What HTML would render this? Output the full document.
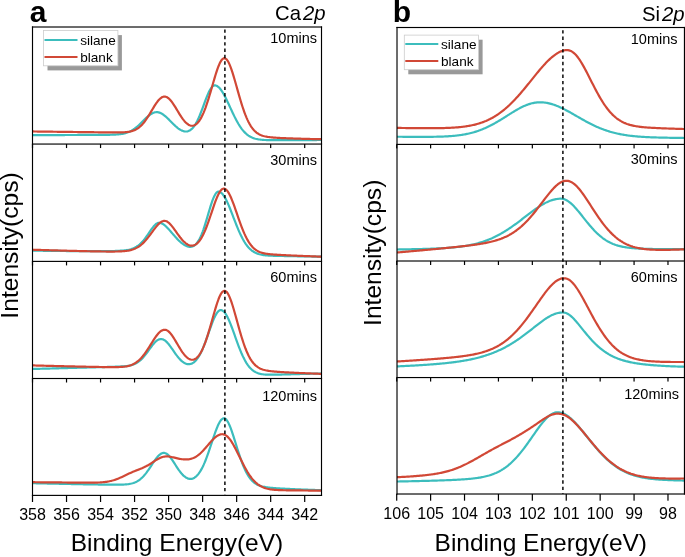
<!DOCTYPE html><html><head><meta charset="utf-8"><style>html,body{margin:0;padding:0;background:#fff;width:685px;height:557px;overflow:hidden}svg{display:block;will-change:transform}text{font-family:"Liberation Sans",sans-serif;fill:#000}</style></head><body>
<svg width="685" height="557" viewBox="0 0 685 557">
<rect width="685" height="557" fill="#fff"/>
<defs><clipPath id="ca"><rect x="32.5" y="27.0" width="289.0" height="468.0"/></clipPath></defs>
<g clip-path="url(#ca)" fill="none" stroke-width="2.2" stroke-linejoin="round">
<path d="M32.5 135.16 L33.5 135.16 L34.5 135.15 L35.5 135.15 L36.5 135.14 L37.5 135.14 L38.5 135.14 L39.5 135.13 L40.5 135.13 L41.5 135.12 L42.5 135.12 L43.5 135.11 L44.5 135.11 L45.5 135.11 L46.5 135.10 L47.5 135.10 L48.5 135.09 L49.5 135.09 L50.5 135.09 L51.5 135.08 L52.5 135.08 L53.5 135.07 L54.5 135.07 L55.5 135.07 L56.5 135.06 L57.5 135.06 L58.5 135.05 L59.5 135.05 L60.5 135.05 L61.5 135.04 L62.5 135.04 L63.5 135.03 L64.5 135.03 L65.5 135.02 L66.5 135.02 L67.5 135.02 L68.5 135.01 L69.5 135.01 L70.5 135.00 L71.5 135.00 L72.5 135.00 L73.5 134.99 L74.5 134.99 L75.5 134.98 L76.5 134.98 L77.5 134.98 L78.5 134.97 L79.5 134.97 L80.5 134.96 L81.5 134.96 L82.5 134.96 L83.5 134.95 L84.5 134.95 L85.5 134.94 L86.5 134.94 L87.5 134.93 L88.5 134.93 L89.5 134.93 L90.5 134.92 L91.5 134.92 L92.5 134.91 L93.5 134.91 L94.5 134.91 L95.5 134.90 L96.5 134.90 L97.5 134.89 L98.5 134.89 L99.5 134.88 L100.5 134.88 L101.5 134.87 L102.5 134.86 L103.5 134.86 L104.5 134.85 L105.5 134.84 L106.5 134.83 L107.5 134.82 L108.5 134.80 L109.5 134.79 L110.5 134.76 L111.5 134.74 L112.5 134.71 L113.5 134.67 L114.5 134.63 L115.5 134.58 L116.5 134.52 L117.5 134.44 L118.5 134.35 L119.5 134.25 L120.5 134.12 L121.5 133.97 L122.5 133.80 L123.5 133.60 L124.5 133.38 L125.5 133.11 L126.5 132.81 L127.5 132.47 L128.5 132.08 L129.5 131.65 L130.5 131.17 L131.5 130.64 L132.5 130.05 L133.5 129.41 L134.5 128.72 L135.5 127.98 L136.5 127.18 L137.5 126.34 L138.5 125.45 L139.5 124.52 L140.5 123.56 L141.5 122.58 L142.5 121.58 L143.5 120.58 L144.5 119.58 L145.5 118.60 L146.5 117.64 L147.5 116.73 L148.5 115.87 L149.5 115.07 L150.5 114.35 L151.5 113.72 L152.5 113.18 L153.5 112.75 L154.5 112.44 L155.5 112.24 L156.5 112.16 L157.5 112.21 L158.5 112.37 L159.5 112.65 L160.5 113.03 L161.5 113.52 L162.5 114.11 L163.5 114.78 L164.5 115.54 L165.5 116.37 L166.5 117.25 L167.5 118.19 L168.5 119.16 L169.5 120.16 L170.5 121.18 L171.5 122.19 L172.5 123.20 L173.5 124.19 L174.5 125.16 L175.5 126.08 L176.5 126.96 L177.5 127.78 L178.5 128.55 L179.5 129.24 L180.5 129.85 L181.5 130.38 L182.5 130.82 L183.5 131.16 L184.5 131.39 L185.5 131.50 L186.5 131.49 L187.5 131.34 L188.5 131.05 L189.5 130.60 L190.5 129.98 L191.5 129.19 L192.5 128.22 L193.5 127.05 L194.5 125.69 L195.5 124.12 L196.5 122.37 L197.5 120.41 L198.5 118.28 L199.5 115.98 L200.5 113.53 L201.5 110.97 L202.5 108.31 L203.5 105.60 L204.5 102.88 L205.5 100.20 L206.5 97.60 L207.5 95.13 L208.5 92.85 L209.5 90.79 L210.5 89.02 L211.5 87.56 L212.5 86.45 L213.5 85.72 L214.5 85.38 L215.5 85.44 L216.5 85.76 L217.5 86.31 L218.5 87.08 L219.5 88.06 L220.5 89.23 L221.5 90.59 L222.5 92.13 L223.5 93.81 L224.5 95.62 L225.5 97.55 L226.5 99.57 L227.5 101.66 L228.5 103.80 L229.5 105.97 L230.5 108.15 L231.5 110.32 L232.5 112.47 L233.5 114.57 L234.5 116.62 L235.5 118.59 L236.5 120.49 L237.5 122.30 L238.5 124.02 L239.5 125.63 L240.5 127.14 L241.5 128.55 L242.5 129.85 L243.5 131.05 L244.5 132.14 L245.5 133.14 L246.5 134.04 L247.5 134.85 L248.5 135.58 L249.5 136.22 L250.5 136.79 L251.5 137.30 L252.5 137.74 L253.5 138.12 L254.5 138.46 L255.5 138.74 L256.5 138.99 L257.5 139.20 L258.5 139.38 L259.5 139.53 L260.5 139.65 L261.5 139.76 L262.5 139.85 L263.5 139.92 L264.5 139.98 L265.5 140.02 L266.5 140.06 L267.5 140.09 L268.5 140.12 L269.5 140.14 L270.5 140.15 L271.5 140.16 L272.5 140.17 L273.5 140.17 L274.5 140.18 L275.5 140.18 L276.5 140.18 L277.5 140.18 L278.5 140.18 L279.5 140.17 L280.5 140.17 L281.5 140.17 L282.5 140.16 L283.5 140.16 L284.5 140.16 L285.5 140.15 L286.5 140.15 L287.5 140.15 L288.5 140.14 L289.5 140.14 L290.5 140.13 L291.5 140.13 L292.5 140.13 L293.5 140.12 L294.5 140.12 L295.5 140.11 L296.5 140.11 L297.5 140.11 L298.5 140.10 L299.5 140.10 L300.5 140.09 L301.5 140.09 L302.5 140.09 L303.5 140.08 L304.5 140.08 L305.5 140.07 L306.5 140.07 L307.5 140.07 L308.5 140.06 L309.5 140.06 L310.5 140.05 L311.5 140.05 L312.5 140.04 L313.5 140.04 L314.5 140.04 L315.5 140.03 L316.5 140.03 L317.5 140.02 L318.5 140.02 L319.5 140.02 L320.5 140.01 L321.5 140.01" stroke="#3cbdbd"/>
<path d="M32.5 131.46 L33.5 131.47 L34.5 131.49 L35.5 131.50 L36.5 131.51 L37.5 131.53 L38.5 131.54 L39.5 131.55 L40.5 131.56 L41.5 131.58 L42.5 131.59 L43.5 131.60 L44.5 131.62 L45.5 131.63 L46.5 131.64 L47.5 131.66 L48.5 131.67 L49.5 131.68 L50.5 131.69 L51.5 131.71 L52.5 131.72 L53.5 131.73 L54.5 131.75 L55.5 131.76 L56.5 131.77 L57.5 131.78 L58.5 131.80 L59.5 131.81 L60.5 131.82 L61.5 131.84 L62.5 131.85 L63.5 131.86 L64.5 131.87 L65.5 131.89 L66.5 131.90 L67.5 131.91 L68.5 131.92 L69.5 131.94 L70.5 131.95 L71.5 131.96 L72.5 131.97 L73.5 131.99 L74.5 132.00 L75.5 132.01 L76.5 132.02 L77.5 132.03 L78.5 132.05 L79.5 132.06 L80.5 132.07 L81.5 132.08 L82.5 132.09 L83.5 132.11 L84.5 132.12 L85.5 132.13 L86.5 132.14 L87.5 132.15 L88.5 132.17 L89.5 132.18 L90.5 132.19 L91.5 132.20 L92.5 132.21 L93.5 132.22 L94.5 132.23 L95.5 132.25 L96.5 132.26 L97.5 132.27 L98.5 132.28 L99.5 132.29 L100.5 132.30 L101.5 132.31 L102.5 132.32 L103.5 132.33 L104.5 132.34 L105.5 132.35 L106.5 132.36 L107.5 132.37 L108.5 132.38 L109.5 132.39 L110.5 132.40 L111.5 132.41 L112.5 132.41 L113.5 132.42 L114.5 132.42 L115.5 132.43 L116.5 132.43 L117.5 132.42 L118.5 132.42 L119.5 132.40 L120.5 132.39 L121.5 132.36 L122.5 132.33 L123.5 132.28 L124.5 132.23 L125.5 132.15 L126.5 132.06 L127.5 131.95 L128.5 131.80 L129.5 131.63 L130.5 131.43 L131.5 131.18 L132.5 130.89 L133.5 130.54 L134.5 130.14 L135.5 129.67 L136.5 129.13 L137.5 128.52 L138.5 127.82 L139.5 127.04 L140.5 126.16 L141.5 125.20 L142.5 124.13 L143.5 122.97 L144.5 121.72 L145.5 120.38 L146.5 118.95 L147.5 117.45 L148.5 115.88 L149.5 114.25 L150.5 112.59 L151.5 110.91 L152.5 109.23 L153.5 107.56 L154.5 105.94 L155.5 104.38 L156.5 102.91 L157.5 101.54 L158.5 100.30 L159.5 99.22 L160.5 98.30 L161.5 97.57 L162.5 97.04 L163.5 96.71 L164.5 96.60 L165.5 96.70 L166.5 97.01 L167.5 97.53 L168.5 98.25 L169.5 99.16 L170.5 100.23 L171.5 101.46 L172.5 102.81 L173.5 104.28 L174.5 105.83 L175.5 107.45 L176.5 109.10 L177.5 110.77 L178.5 112.43 L179.5 114.06 L180.5 115.64 L181.5 117.16 L182.5 118.59 L183.5 119.92 L184.5 121.14 L185.5 122.24 L186.5 123.20 L187.5 124.02 L188.5 124.69 L189.5 125.21 L190.5 125.56 L191.5 125.75 L192.5 125.76 L193.5 125.59 L194.5 125.23 L195.5 124.69 L196.5 123.94 L197.5 123.00 L198.5 121.84 L199.5 120.48 L200.5 118.90 L201.5 117.10 L202.5 115.09 L203.5 112.86 L204.5 110.42 L205.5 107.79 L206.5 104.96 L207.5 101.96 L208.5 98.81 L209.5 95.53 L210.5 92.14 L211.5 88.69 L212.5 85.21 L213.5 81.74 L214.5 78.32 L215.5 75.01 L216.5 71.85 L217.5 68.90 L218.5 66.20 L219.5 63.82 L220.5 61.81 L221.5 60.20 L222.5 59.04 L223.5 58.36 L224.5 58.18 L225.5 58.50 L226.5 59.29 L227.5 60.56 L228.5 62.26 L229.5 64.36 L230.5 66.81 L231.5 69.58 L232.5 72.60 L233.5 75.83 L234.5 79.22 L235.5 82.71 L236.5 86.26 L237.5 89.83 L238.5 93.38 L239.5 96.87 L240.5 100.28 L241.5 103.56 L242.5 106.71 L243.5 109.70 L244.5 112.52 L245.5 115.16 L246.5 117.61 L247.5 119.87 L248.5 121.94 L249.5 123.83 L250.5 125.54 L251.5 127.08 L252.5 128.45 L253.5 129.68 L254.5 130.76 L255.5 131.71 L256.5 132.55 L257.5 133.28 L258.5 133.91 L259.5 134.46 L260.5 134.94 L261.5 135.35 L262.5 135.70 L263.5 136.01 L264.5 136.27 L265.5 136.50 L266.5 136.69 L267.5 136.87 L268.5 137.02 L269.5 137.15 L270.5 137.26 L271.5 137.37 L272.5 137.46 L273.5 137.55 L274.5 137.62 L275.5 137.69 L276.5 137.76 L277.5 137.82 L278.5 137.88 L279.5 137.93 L280.5 137.98 L281.5 138.03 L282.5 138.08 L283.5 138.13 L284.5 138.17 L285.5 138.21 L286.5 138.25 L287.5 138.29 L288.5 138.33 L289.5 138.37 L290.5 138.40 L291.5 138.44 L292.5 138.47 L293.5 138.51 L294.5 138.54 L295.5 138.57 L296.5 138.60 L297.5 138.63 L298.5 138.66 L299.5 138.69 L300.5 138.72 L301.5 138.75 L302.5 138.78 L303.5 138.81 L304.5 138.83 L305.5 138.86 L306.5 138.89 L307.5 138.91 L308.5 138.94 L309.5 138.96 L310.5 138.99 L311.5 139.01 L312.5 139.03 L313.5 139.06 L314.5 139.08 L315.5 139.10 L316.5 139.13 L317.5 139.15 L318.5 139.17 L319.5 139.19 L320.5 139.21 L321.5 139.24" stroke="#d14836"/>
<path d="M32.5 250.64 L33.5 250.66 L34.5 250.67 L35.5 250.68 L36.5 250.69 L37.5 250.71 L38.5 250.72 L39.5 250.73 L40.5 250.74 L41.5 250.75 L42.5 250.77 L43.5 250.78 L44.5 250.79 L45.5 250.80 L46.5 250.81 L47.5 250.83 L48.5 250.84 L49.5 250.85 L50.5 250.86 L51.5 250.87 L52.5 250.88 L53.5 250.89 L54.5 250.91 L55.5 250.92 L56.5 250.93 L57.5 250.94 L58.5 250.95 L59.5 250.96 L60.5 250.97 L61.5 250.98 L62.5 250.99 L63.5 251.00 L64.5 251.01 L65.5 251.02 L66.5 251.03 L67.5 251.04 L68.5 251.05 L69.5 251.06 L70.5 251.07 L71.5 251.08 L72.5 251.08 L73.5 251.09 L74.5 251.10 L75.5 251.11 L76.5 251.12 L77.5 251.12 L78.5 251.13 L79.5 251.14 L80.5 251.14 L81.5 251.15 L82.5 251.16 L83.5 251.16 L84.5 251.17 L85.5 251.17 L86.5 251.17 L87.5 251.18 L88.5 251.18 L89.5 251.19 L90.5 251.19 L91.5 251.19 L92.5 251.19 L93.5 251.19 L94.5 251.19 L95.5 251.19 L96.5 251.19 L97.5 251.19 L98.5 251.19 L99.5 251.18 L100.5 251.18 L101.5 251.17 L102.5 251.17 L103.5 251.16 L104.5 251.15 L105.5 251.14 L106.5 251.13 L107.5 251.12 L108.5 251.10 L109.5 251.09 L110.5 251.07 L111.5 251.05 L112.5 251.03 L113.5 251.00 L114.5 250.98 L115.5 250.95 L116.5 250.91 L117.5 250.87 L118.5 250.83 L119.5 250.78 L120.5 250.72 L121.5 250.65 L122.5 250.57 L123.5 250.48 L124.5 250.38 L125.5 250.26 L126.5 250.12 L127.5 249.96 L128.5 249.77 L129.5 249.55 L130.5 249.29 L131.5 248.99 L132.5 248.65 L133.5 248.25 L134.5 247.80 L135.5 247.28 L136.5 246.70 L137.5 246.04 L138.5 245.30 L139.5 244.48 L140.5 243.58 L141.5 242.59 L142.5 241.51 L143.5 240.36 L144.5 239.12 L145.5 237.81 L146.5 236.45 L147.5 235.03 L148.5 233.57 L149.5 232.10 L150.5 230.64 L151.5 229.21 L152.5 227.85 L153.5 226.57 L154.5 225.43 L155.5 224.46 L156.5 223.69 L157.5 223.15 L158.5 222.87 L159.5 222.85 L160.5 223.01 L161.5 223.33 L162.5 223.80 L163.5 224.41 L164.5 225.14 L165.5 225.98 L166.5 226.91 L167.5 227.92 L168.5 228.99 L169.5 230.11 L170.5 231.25 L171.5 232.42 L172.5 233.59 L173.5 234.75 L174.5 235.90 L175.5 237.02 L176.5 238.12 L177.5 239.17 L178.5 240.18 L179.5 241.14 L180.5 242.05 L181.5 242.90 L182.5 243.68 L183.5 244.39 L184.5 245.03 L185.5 245.58 L186.5 246.05 L187.5 246.42 L188.5 246.69 L189.5 246.84 L190.5 246.87 L191.5 246.75 L192.5 246.48 L193.5 246.04 L194.5 245.41 L195.5 244.58 L196.5 243.53 L197.5 242.25 L198.5 240.72 L199.5 238.94 L200.5 236.90 L201.5 234.61 L202.5 232.07 L203.5 229.30 L204.5 226.32 L205.5 223.17 L206.5 219.88 L207.5 216.50 L208.5 213.09 L209.5 209.72 L210.5 206.44 L211.5 203.34 L212.5 200.47 L213.5 197.91 L214.5 195.72 L215.5 193.95 L216.5 192.66 L217.5 191.87 L218.5 191.61 L219.5 191.80 L220.5 192.27 L221.5 193.02 L222.5 194.05 L223.5 195.32 L224.5 196.84 L225.5 198.58 L226.5 200.52 L227.5 202.63 L228.5 204.89 L229.5 207.28 L230.5 209.76 L231.5 212.31 L232.5 214.91 L233.5 217.52 L234.5 220.13 L235.5 222.71 L236.5 225.24 L237.5 227.70 L238.5 230.08 L239.5 232.36 L240.5 234.53 L241.5 236.58 L242.5 238.52 L243.5 240.32 L244.5 241.99 L245.5 243.54 L246.5 244.96 L247.5 246.25 L248.5 247.42 L249.5 248.48 L250.5 249.43 L251.5 250.28 L252.5 251.03 L253.5 251.70 L254.5 252.28 L255.5 252.79 L256.5 253.24 L257.5 253.63 L258.5 253.96 L259.5 254.25 L260.5 254.50 L261.5 254.71 L262.5 254.89 L263.5 255.05 L264.5 255.18 L265.5 255.29 L266.5 255.39 L267.5 255.47 L268.5 255.54 L269.5 255.60 L270.5 255.65 L271.5 255.70 L272.5 255.74 L273.5 255.78 L274.5 255.81 L275.5 255.84 L276.5 255.87 L277.5 255.89 L278.5 255.92 L279.5 255.94 L280.5 255.96 L281.5 255.98 L282.5 256.00 L283.5 256.02 L284.5 256.04 L285.5 256.06 L286.5 256.08 L287.5 256.10 L288.5 256.12 L289.5 256.13 L290.5 256.15 L291.5 256.17 L292.5 256.19 L293.5 256.21 L294.5 256.22 L295.5 256.24 L296.5 256.26 L297.5 256.28 L298.5 256.29 L299.5 256.31 L300.5 256.33 L301.5 256.35 L302.5 256.36 L303.5 256.38 L304.5 256.40 L305.5 256.42 L306.5 256.43 L307.5 256.45 L308.5 256.47 L309.5 256.48 L310.5 256.50 L311.5 256.52 L312.5 256.53 L313.5 256.55 L314.5 256.57 L315.5 256.58 L316.5 256.60 L317.5 256.62 L318.5 256.63 L319.5 256.65 L320.5 256.67 L321.5 256.68" stroke="#3cbdbd"/>
<path d="M32.5 249.72 L33.5 249.75 L34.5 249.79 L35.5 249.82 L36.5 249.85 L37.5 249.88 L38.5 249.91 L39.5 249.94 L40.5 249.97 L41.5 250.00 L42.5 250.02 L43.5 250.05 L44.5 250.08 L45.5 250.11 L46.5 250.14 L47.5 250.17 L48.5 250.20 L49.5 250.23 L50.5 250.26 L51.5 250.29 L52.5 250.32 L53.5 250.35 L54.5 250.38 L55.5 250.40 L56.5 250.43 L57.5 250.46 L58.5 250.49 L59.5 250.52 L60.5 250.54 L61.5 250.57 L62.5 250.60 L63.5 250.63 L64.5 250.66 L65.5 250.68 L66.5 250.71 L67.5 250.74 L68.5 250.76 L69.5 250.79 L70.5 250.82 L71.5 250.84 L72.5 250.87 L73.5 250.89 L74.5 250.92 L75.5 250.95 L76.5 250.97 L77.5 250.99 L78.5 251.02 L79.5 251.04 L80.5 251.07 L81.5 251.09 L82.5 251.12 L83.5 251.14 L84.5 251.16 L85.5 251.18 L86.5 251.21 L87.5 251.23 L88.5 251.25 L89.5 251.27 L90.5 251.29 L91.5 251.31 L92.5 251.33 L93.5 251.35 L94.5 251.37 L95.5 251.38 L96.5 251.40 L97.5 251.42 L98.5 251.43 L99.5 251.45 L100.5 251.46 L101.5 251.48 L102.5 251.49 L103.5 251.50 L104.5 251.51 L105.5 251.52 L106.5 251.53 L107.5 251.54 L108.5 251.54 L109.5 251.55 L110.5 251.55 L111.5 251.55 L112.5 251.55 L113.5 251.54 L114.5 251.53 L115.5 251.52 L116.5 251.50 L117.5 251.48 L118.5 251.45 L119.5 251.42 L120.5 251.38 L121.5 251.33 L122.5 251.27 L123.5 251.19 L124.5 251.10 L125.5 251.00 L126.5 250.88 L127.5 250.73 L128.5 250.56 L129.5 250.36 L130.5 250.13 L131.5 249.87 L132.5 249.57 L133.5 249.22 L134.5 248.83 L135.5 248.39 L136.5 247.89 L137.5 247.34 L138.5 246.72 L139.5 246.04 L140.5 245.30 L141.5 244.48 L142.5 243.60 L143.5 242.65 L144.5 241.63 L145.5 240.54 L146.5 239.39 L147.5 238.19 L148.5 236.93 L149.5 235.63 L150.5 234.30 L151.5 232.95 L152.5 231.58 L153.5 230.22 L154.5 228.89 L155.5 227.59 L156.5 226.35 L157.5 225.18 L158.5 224.12 L159.5 223.17 L160.5 222.37 L161.5 221.72 L162.5 221.25 L163.5 220.96 L164.5 220.87 L165.5 220.98 L166.5 221.31 L167.5 221.84 L168.5 222.55 L169.5 223.44 L170.5 224.47 L171.5 225.62 L172.5 226.87 L173.5 228.19 L174.5 229.57 L175.5 230.97 L176.5 232.39 L177.5 233.79 L178.5 235.17 L179.5 236.51 L180.5 237.80 L181.5 239.02 L182.5 240.16 L183.5 241.22 L184.5 242.18 L185.5 243.04 L186.5 243.79 L187.5 244.43 L188.5 244.94 L189.5 245.33 L190.5 245.58 L191.5 245.70 L192.5 245.67 L193.5 245.49 L194.5 245.14 L195.5 244.64 L196.5 243.96 L197.5 243.11 L198.5 242.07 L199.5 240.85 L200.5 239.43 L201.5 237.82 L202.5 236.02 L203.5 234.04 L204.5 231.86 L205.5 229.52 L206.5 227.01 L207.5 224.36 L208.5 221.58 L209.5 218.71 L210.5 215.76 L211.5 212.78 L212.5 209.79 L213.5 206.84 L214.5 203.97 L215.5 201.22 L216.5 198.64 L217.5 196.27 L218.5 194.15 L219.5 192.32 L220.5 190.83 L221.5 189.70 L222.5 188.96 L223.5 188.63 L224.5 188.71 L225.5 189.16 L226.5 189.98 L227.5 191.15 L228.5 192.65 L229.5 194.45 L230.5 196.51 L231.5 198.81 L232.5 201.31 L233.5 203.96 L234.5 206.73 L235.5 209.58 L236.5 212.48 L237.5 215.39 L238.5 218.28 L239.5 221.13 L240.5 223.90 L241.5 226.58 L242.5 229.15 L243.5 231.59 L244.5 233.89 L245.5 236.05 L246.5 238.06 L247.5 239.91 L248.5 241.60 L249.5 243.15 L250.5 244.55 L251.5 245.81 L252.5 246.94 L253.5 247.95 L254.5 248.84 L255.5 249.63 L256.5 250.32 L257.5 250.92 L258.5 251.44 L259.5 251.90 L260.5 252.30 L261.5 252.64 L262.5 252.93 L263.5 253.19 L264.5 253.41 L265.5 253.60 L266.5 253.77 L267.5 253.92 L268.5 254.05 L269.5 254.16 L270.5 254.26 L271.5 254.36 L272.5 254.44 L273.5 254.52 L274.5 254.59 L275.5 254.66 L276.5 254.72 L277.5 254.78 L278.5 254.84 L279.5 254.90 L280.5 254.95 L281.5 255.00 L282.5 255.06 L283.5 255.11 L284.5 255.16 L285.5 255.20 L286.5 255.25 L287.5 255.30 L288.5 255.34 L289.5 255.39 L290.5 255.44 L291.5 255.48 L292.5 255.52 L293.5 255.57 L294.5 255.61 L295.5 255.65 L296.5 255.70 L297.5 255.74 L298.5 255.78 L299.5 255.82 L300.5 255.86 L301.5 255.90 L302.5 255.95 L303.5 255.99 L304.5 256.03 L305.5 256.07 L306.5 256.11 L307.5 256.15 L308.5 256.19 L309.5 256.22 L310.5 256.26 L311.5 256.30 L312.5 256.34 L313.5 256.38 L314.5 256.42 L315.5 256.46 L316.5 256.49 L317.5 256.53 L318.5 256.57 L319.5 256.61 L320.5 256.64 L321.5 256.68" stroke="#d14836"/>
<path d="M32.5 368.99 L33.5 368.96 L34.5 368.94 L35.5 368.91 L36.5 368.88 L37.5 368.86 L38.5 368.83 L39.5 368.80 L40.5 368.77 L41.5 368.75 L42.5 368.72 L43.5 368.69 L44.5 368.67 L45.5 368.64 L46.5 368.61 L47.5 368.58 L48.5 368.56 L49.5 368.53 L50.5 368.50 L51.5 368.48 L52.5 368.45 L53.5 368.42 L54.5 368.39 L55.5 368.37 L56.5 368.34 L57.5 368.31 L58.5 368.29 L59.5 368.26 L60.5 368.23 L61.5 368.20 L62.5 368.18 L63.5 368.15 L64.5 368.12 L65.5 368.10 L66.5 368.07 L67.5 368.04 L68.5 368.02 L69.5 367.99 L70.5 367.96 L71.5 367.93 L72.5 367.91 L73.5 367.88 L74.5 367.85 L75.5 367.83 L76.5 367.80 L77.5 367.77 L78.5 367.74 L79.5 367.72 L80.5 367.69 L81.5 367.66 L82.5 367.64 L83.5 367.61 L84.5 367.58 L85.5 367.55 L86.5 367.53 L87.5 367.50 L88.5 367.47 L89.5 367.45 L90.5 367.42 L91.5 367.39 L92.5 367.36 L93.5 367.34 L94.5 367.31 L95.5 367.28 L96.5 367.26 L97.5 367.23 L98.5 367.20 L99.5 367.17 L100.5 367.15 L101.5 367.12 L102.5 367.09 L103.5 367.06 L104.5 367.04 L105.5 367.01 L106.5 366.98 L107.5 366.96 L108.5 366.93 L109.5 366.90 L110.5 366.87 L111.5 366.84 L112.5 366.81 L113.5 366.78 L114.5 366.75 L115.5 366.72 L116.5 366.69 L117.5 366.65 L118.5 366.61 L119.5 366.57 L120.5 366.52 L121.5 366.47 L122.5 366.41 L123.5 366.34 L124.5 366.26 L125.5 366.17 L126.5 366.05 L127.5 365.92 L128.5 365.76 L129.5 365.58 L130.5 365.36 L131.5 365.10 L132.5 364.80 L133.5 364.44 L134.5 364.04 L135.5 363.57 L136.5 363.03 L137.5 362.42 L138.5 361.73 L139.5 360.96 L140.5 360.11 L141.5 359.17 L142.5 358.15 L143.5 357.05 L144.5 355.87 L145.5 354.63 L146.5 353.33 L147.5 351.98 L148.5 350.61 L149.5 349.22 L150.5 347.84 L151.5 346.48 L152.5 345.18 L153.5 343.94 L154.5 342.80 L155.5 341.78 L156.5 340.89 L157.5 340.16 L158.5 339.60 L159.5 339.22 L160.5 339.03 L161.5 339.04 L162.5 339.24 L163.5 339.63 L164.5 340.20 L165.5 340.94 L166.5 341.84 L167.5 342.88 L168.5 344.04 L169.5 345.30 L170.5 346.64 L171.5 348.04 L172.5 349.47 L173.5 350.92 L174.5 352.36 L175.5 353.77 L176.5 355.14 L177.5 356.44 L178.5 357.68 L179.5 358.83 L180.5 359.88 L181.5 360.83 L182.5 361.67 L183.5 362.40 L184.5 363.01 L185.5 363.49 L186.5 363.85 L187.5 364.09 L188.5 364.19 L189.5 364.15 L190.5 363.98 L191.5 363.66 L192.5 363.19 L193.5 362.57 L194.5 361.78 L195.5 360.83 L196.5 359.70 L197.5 358.40 L198.5 356.92 L199.5 355.25 L200.5 353.40 L201.5 351.37 L202.5 349.17 L203.5 346.81 L204.5 344.30 L205.5 341.67 L206.5 338.93 L207.5 336.11 L208.5 333.26 L209.5 330.39 L210.5 327.56 L211.5 324.80 L212.5 322.16 L213.5 319.67 L214.5 317.40 L215.5 315.36 L216.5 313.62 L217.5 312.19 L218.5 311.10 L219.5 310.39 L220.5 310.07 L221.5 310.14 L222.5 310.56 L223.5 311.30 L224.5 312.34 L225.5 313.66 L226.5 315.27 L227.5 317.12 L228.5 319.19 L229.5 321.47 L230.5 323.91 L231.5 326.49 L232.5 329.18 L233.5 331.94 L234.5 334.74 L235.5 337.55 L236.5 340.35 L237.5 343.10 L238.5 345.79 L239.5 348.39 L240.5 350.89 L241.5 353.27 L242.5 355.51 L243.5 357.62 L244.5 359.59 L245.5 361.40 L246.5 363.07 L247.5 364.58 L248.5 365.96 L249.5 367.20 L250.5 368.30 L251.5 369.28 L252.5 370.14 L253.5 370.90 L254.5 371.55 L255.5 372.12 L256.5 372.60 L257.5 373.02 L258.5 373.36 L259.5 373.65 L260.5 373.89 L261.5 374.09 L262.5 374.25 L263.5 374.38 L264.5 374.48 L265.5 374.56 L266.5 374.61 L267.5 374.66 L268.5 374.68 L269.5 374.70 L270.5 374.71 L271.5 374.71 L272.5 374.71 L273.5 374.70 L274.5 374.68 L275.5 374.67 L276.5 374.65 L277.5 374.63 L278.5 374.60 L279.5 374.58 L280.5 374.55 L281.5 374.53 L282.5 374.50 L283.5 374.48 L284.5 374.45 L285.5 374.42 L286.5 374.40 L287.5 374.37 L288.5 374.34 L289.5 374.32 L290.5 374.29 L291.5 374.26 L292.5 374.24 L293.5 374.21 L294.5 374.18 L295.5 374.16 L296.5 374.13 L297.5 374.10 L298.5 374.07 L299.5 374.05 L300.5 374.02 L301.5 373.99 L302.5 373.97 L303.5 373.94 L304.5 373.91 L305.5 373.88 L306.5 373.86 L307.5 373.83 L308.5 373.80 L309.5 373.78 L310.5 373.75 L311.5 373.72 L312.5 373.69 L313.5 373.67 L314.5 373.64 L315.5 373.61 L316.5 373.59 L317.5 373.56 L318.5 373.53 L319.5 373.50 L320.5 373.48 L321.5 373.45" stroke="#3cbdbd"/>
<path d="M32.5 365.42 L33.5 365.45 L34.5 365.47 L35.5 365.50 L36.5 365.53 L37.5 365.55 L38.5 365.58 L39.5 365.60 L40.5 365.63 L41.5 365.65 L42.5 365.68 L43.5 365.70 L44.5 365.73 L45.5 365.76 L46.5 365.78 L47.5 365.81 L48.5 365.83 L49.5 365.86 L50.5 365.88 L51.5 365.91 L52.5 365.93 L53.5 365.96 L54.5 365.98 L55.5 366.01 L56.5 366.03 L57.5 366.06 L58.5 366.08 L59.5 366.10 L60.5 366.13 L61.5 366.15 L62.5 366.18 L63.5 366.20 L64.5 366.23 L65.5 366.25 L66.5 366.27 L67.5 366.30 L68.5 366.32 L69.5 366.35 L70.5 366.37 L71.5 366.39 L72.5 366.42 L73.5 366.44 L74.5 366.46 L75.5 366.48 L76.5 366.51 L77.5 366.53 L78.5 366.55 L79.5 366.58 L80.5 366.60 L81.5 366.62 L82.5 366.64 L83.5 366.66 L84.5 366.69 L85.5 366.71 L86.5 366.73 L87.5 366.75 L88.5 366.77 L89.5 366.79 L90.5 366.81 L91.5 366.83 L92.5 366.85 L93.5 366.87 L94.5 366.89 L95.5 366.91 L96.5 366.93 L97.5 366.95 L98.5 366.96 L99.5 366.98 L100.5 367.00 L101.5 367.02 L102.5 367.03 L103.5 367.05 L104.5 367.06 L105.5 367.08 L106.5 367.09 L107.5 367.10 L108.5 367.11 L109.5 367.12 L110.5 367.13 L111.5 367.13 L112.5 367.14 L113.5 367.13 L114.5 367.13 L115.5 367.12 L116.5 367.11 L117.5 367.08 L118.5 367.05 L119.5 367.02 L120.5 366.97 L121.5 366.90 L122.5 366.83 L123.5 366.73 L124.5 366.61 L125.5 366.47 L126.5 366.31 L127.5 366.11 L128.5 365.88 L129.5 365.61 L130.5 365.29 L131.5 364.93 L132.5 364.52 L133.5 364.04 L134.5 363.51 L135.5 362.91 L136.5 362.23 L137.5 361.49 L138.5 360.66 L139.5 359.75 L140.5 358.76 L141.5 357.69 L142.5 356.54 L143.5 355.31 L144.5 354.00 L145.5 352.61 L146.5 351.17 L147.5 349.67 L148.5 348.12 L149.5 346.54 L150.5 344.93 L151.5 343.32 L152.5 341.72 L153.5 340.15 L154.5 338.62 L155.5 337.15 L156.5 335.76 L157.5 334.48 L158.5 333.32 L159.5 332.29 L160.5 331.42 L161.5 330.72 L162.5 330.20 L163.5 329.87 L164.5 329.74 L165.5 329.81 L166.5 330.12 L167.5 330.65 L168.5 331.39 L169.5 332.33 L170.5 333.44 L171.5 334.72 L172.5 336.12 L173.5 337.64 L174.5 339.24 L175.5 340.90 L176.5 342.59 L177.5 344.30 L178.5 346.00 L179.5 347.66 L180.5 349.28 L181.5 350.83 L182.5 352.29 L183.5 353.65 L184.5 354.90 L185.5 356.03 L186.5 357.03 L187.5 357.88 L188.5 358.59 L189.5 359.14 L190.5 359.52 L191.5 359.73 L192.5 359.77 L193.5 359.63 L194.5 359.29 L195.5 358.77 L196.5 358.04 L197.5 357.10 L198.5 355.95 L199.5 354.59 L200.5 353.00 L201.5 351.19 L202.5 349.16 L203.5 346.91 L204.5 344.44 L205.5 341.77 L206.5 338.90 L207.5 335.85 L208.5 332.65 L209.5 329.30 L210.5 325.86 L211.5 322.33 L212.5 318.78 L213.5 315.22 L214.5 311.72 L215.5 308.32 L216.5 305.08 L217.5 302.03 L218.5 299.25 L219.5 296.78 L220.5 294.68 L221.5 292.99 L222.5 291.76 L223.5 291.01 L224.5 290.77 L225.5 291.04 L226.5 291.81 L227.5 293.05 L228.5 294.76 L229.5 296.87 L230.5 299.36 L231.5 302.16 L232.5 305.23 L233.5 308.51 L234.5 311.96 L235.5 315.52 L236.5 319.13 L237.5 322.77 L238.5 326.38 L239.5 329.94 L240.5 333.40 L241.5 336.74 L242.5 339.95 L243.5 342.99 L244.5 345.85 L245.5 348.53 L246.5 351.02 L247.5 353.32 L248.5 355.43 L249.5 357.35 L250.5 359.08 L251.5 360.64 L252.5 362.04 L253.5 363.28 L254.5 364.38 L255.5 365.35 L256.5 366.21 L257.5 366.95 L258.5 367.60 L259.5 368.16 L260.5 368.65 L261.5 369.08 L262.5 369.45 L263.5 369.77 L264.5 370.04 L265.5 370.29 L266.5 370.50 L267.5 370.68 L268.5 370.85 L269.5 371.00 L270.5 371.13 L271.5 371.25 L272.5 371.36 L273.5 371.45 L274.5 371.55 L275.5 371.63 L276.5 371.72 L277.5 371.79 L278.5 371.87 L279.5 371.93 L280.5 372.00 L281.5 372.07 L282.5 372.13 L283.5 372.19 L284.5 372.25 L285.5 372.31 L286.5 372.36 L287.5 372.42 L288.5 372.47 L289.5 372.52 L290.5 372.57 L291.5 372.62 L292.5 372.67 L293.5 372.72 L294.5 372.77 L295.5 372.82 L296.5 372.86 L297.5 372.91 L298.5 372.95 L299.5 373.00 L300.5 373.04 L301.5 373.08 L302.5 373.12 L303.5 373.17 L304.5 373.21 L305.5 373.25 L306.5 373.29 L307.5 373.33 L308.5 373.37 L309.5 373.41 L310.5 373.45 L311.5 373.48 L312.5 373.52 L313.5 373.56 L314.5 373.60 L315.5 373.64 L316.5 373.67 L317.5 373.71 L318.5 373.75 L319.5 373.78 L320.5 373.82 L321.5 373.85" stroke="#d14836"/>
<path d="M32.5 483.20 L33.5 483.22 L34.5 483.25 L35.5 483.27 L36.5 483.29 L37.5 483.31 L38.5 483.34 L39.5 483.36 L40.5 483.38 L41.5 483.40 L42.5 483.43 L43.5 483.45 L44.5 483.47 L45.5 483.49 L46.5 483.51 L47.5 483.54 L48.5 483.56 L49.5 483.58 L50.5 483.60 L51.5 483.62 L52.5 483.65 L53.5 483.67 L54.5 483.69 L55.5 483.71 L56.5 483.73 L57.5 483.75 L58.5 483.77 L59.5 483.80 L60.5 483.82 L61.5 483.84 L62.5 483.86 L63.5 483.88 L64.5 483.90 L65.5 483.92 L66.5 483.94 L67.5 483.96 L68.5 483.98 L69.5 484.00 L70.5 484.02 L71.5 484.04 L72.5 484.06 L73.5 484.08 L74.5 484.10 L75.5 484.12 L76.5 484.14 L77.5 484.16 L78.5 484.18 L79.5 484.20 L80.5 484.22 L81.5 484.24 L82.5 484.26 L83.5 484.28 L84.5 484.29 L85.5 484.31 L86.5 484.33 L87.5 484.35 L88.5 484.37 L89.5 484.38 L90.5 484.40 L91.5 484.42 L92.5 484.43 L93.5 484.45 L94.5 484.47 L95.5 484.48 L96.5 484.50 L97.5 484.51 L98.5 484.53 L99.5 484.54 L100.5 484.56 L101.5 484.57 L102.5 484.59 L103.5 484.60 L104.5 484.61 L105.5 484.62 L106.5 484.63 L107.5 484.64 L108.5 484.65 L109.5 484.66 L110.5 484.67 L111.5 484.68 L112.5 484.69 L113.5 484.69 L114.5 484.69 L115.5 484.69 L116.5 484.69 L117.5 484.69 L118.5 484.68 L119.5 484.66 L120.5 484.65 L121.5 484.62 L122.5 484.59 L123.5 484.54 L124.5 484.49 L125.5 484.42 L126.5 484.33 L127.5 484.23 L128.5 484.10 L129.5 483.94 L130.5 483.75 L131.5 483.53 L132.5 483.27 L133.5 482.96 L134.5 482.60 L135.5 482.18 L136.5 481.69 L137.5 481.15 L138.5 480.52 L139.5 479.82 L140.5 479.04 L141.5 478.17 L142.5 477.22 L143.5 476.18 L144.5 475.05 L145.5 473.84 L146.5 472.56 L147.5 471.20 L148.5 469.78 L149.5 468.32 L150.5 466.82 L151.5 465.29 L152.5 463.77 L153.5 462.26 L154.5 460.79 L155.5 459.38 L156.5 458.05 L157.5 456.83 L158.5 455.74 L159.5 454.80 L160.5 454.03 L161.5 453.45 L162.5 453.07 L163.5 452.89 L164.5 452.94 L165.5 453.22 L166.5 453.72 L167.5 454.44 L168.5 455.34 L169.5 456.42 L170.5 457.64 L171.5 458.99 L172.5 460.42 L173.5 461.92 L174.5 463.46 L175.5 465.02 L176.5 466.56 L177.5 468.08 L178.5 469.55 L179.5 470.95 L180.5 472.26 L181.5 473.49 L182.5 474.60 L183.5 475.60 L184.5 476.48 L185.5 477.23 L186.5 477.85 L187.5 478.34 L188.5 478.68 L189.5 478.88 L190.5 478.94 L191.5 478.85 L192.5 478.61 L193.5 478.22 L194.5 477.67 L195.5 476.96 L196.5 476.09 L197.5 475.05 L198.5 473.84 L199.5 472.45 L200.5 470.89 L201.5 469.15 L202.5 467.23 L203.5 465.15 L204.5 462.89 L205.5 460.47 L206.5 457.91 L207.5 455.21 L208.5 452.39 L209.5 449.48 L210.5 446.51 L211.5 443.49 L212.5 440.46 L213.5 437.46 L214.5 434.52 L215.5 431.70 L216.5 429.02 L217.5 426.55 L218.5 424.32 L219.5 422.39 L220.5 420.79 L221.5 419.56 L222.5 418.74 L223.5 418.34 L224.5 418.38 L225.5 418.90 L226.5 419.87 L227.5 421.28 L228.5 423.09 L229.5 425.25 L230.5 427.71 L231.5 430.42 L232.5 433.34 L233.5 436.40 L234.5 439.56 L235.5 442.78 L236.5 446.01 L237.5 449.21 L238.5 452.35 L239.5 455.40 L240.5 458.33 L241.5 461.14 L242.5 463.79 L243.5 466.28 L244.5 468.60 L245.5 470.74 L246.5 472.71 L247.5 474.51 L248.5 476.14 L249.5 477.61 L250.5 478.92 L251.5 480.09 L252.5 481.13 L253.5 482.04 L254.5 482.85 L255.5 483.55 L256.5 484.16 L257.5 484.69 L258.5 485.16 L259.5 485.56 L260.5 485.91 L261.5 486.21 L262.5 486.47 L263.5 486.70 L264.5 486.90 L265.5 487.08 L266.5 487.24 L267.5 487.38 L268.5 487.51 L269.5 487.62 L270.5 487.73 L271.5 487.83 L272.5 487.92 L273.5 488.00 L274.5 488.08 L275.5 488.16 L276.5 488.23 L277.5 488.30 L278.5 488.36 L279.5 488.42 L280.5 488.49 L281.5 488.55 L282.5 488.60 L283.5 488.66 L284.5 488.71 L285.5 488.77 L286.5 488.82 L287.5 488.87 L288.5 488.92 L289.5 488.96 L290.5 489.01 L291.5 489.06 L292.5 489.10 L293.5 489.15 L294.5 489.19 L295.5 489.23 L296.5 489.28 L297.5 489.32 L298.5 489.36 L299.5 489.40 L300.5 489.44 L301.5 489.48 L302.5 489.52 L303.5 489.56 L304.5 489.59 L305.5 489.63 L306.5 489.67 L307.5 489.70 L308.5 489.74 L309.5 489.78 L310.5 489.81 L311.5 489.85 L312.5 489.88 L313.5 489.91 L314.5 489.95 L315.5 489.98 L316.5 490.02 L317.5 490.05 L318.5 490.08 L319.5 490.11 L320.5 490.15 L321.5 490.18" stroke="#3cbdbd"/>
<path d="M32.5 482.20 L33.5 482.21 L34.5 482.22 L35.5 482.23 L36.5 482.24 L37.5 482.25 L38.5 482.26 L39.5 482.27 L40.5 482.28 L41.5 482.29 L42.5 482.30 L43.5 482.31 L44.5 482.32 L45.5 482.33 L46.5 482.33 L47.5 482.34 L48.5 482.35 L49.5 482.36 L50.5 482.37 L51.5 482.38 L52.5 482.39 L53.5 482.40 L54.5 482.41 L55.5 482.42 L56.5 482.43 L57.5 482.44 L58.5 482.45 L59.5 482.45 L60.5 482.46 L61.5 482.47 L62.5 482.48 L63.5 482.49 L64.5 482.50 L65.5 482.51 L66.5 482.52 L67.5 482.53 L68.5 482.54 L69.5 482.55 L70.5 482.55 L71.5 482.56 L72.5 482.57 L73.5 482.58 L74.5 482.59 L75.5 482.60 L76.5 482.61 L77.5 482.62 L78.5 482.62 L79.5 482.63 L80.5 482.64 L81.5 482.65 L82.5 482.65 L83.5 482.66 L84.5 482.67 L85.5 482.67 L86.5 482.68 L87.5 482.68 L88.5 482.68 L89.5 482.68 L90.5 482.68 L91.5 482.67 L92.5 482.67 L93.5 482.66 L94.5 482.64 L95.5 482.62 L96.5 482.59 L97.5 482.56 L98.5 482.52 L99.5 482.48 L100.5 482.42 L101.5 482.35 L102.5 482.27 L103.5 482.18 L104.5 482.07 L105.5 481.95 L106.5 481.81 L107.5 481.65 L108.5 481.47 L109.5 481.27 L110.5 481.05 L111.5 480.81 L112.5 480.54 L113.5 480.25 L114.5 479.93 L115.5 479.59 L116.5 479.23 L117.5 478.85 L118.5 478.45 L119.5 478.02 L120.5 477.59 L121.5 477.13 L122.5 476.67 L123.5 476.19 L124.5 475.71 L125.5 475.23 L126.5 474.75 L127.5 474.27 L128.5 473.80 L129.5 473.33 L130.5 472.88 L131.5 472.43 L132.5 472.00 L133.5 471.58 L134.5 471.17 L135.5 470.77 L136.5 470.38 L137.5 469.99 L138.5 469.61 L139.5 469.22 L140.5 468.82 L141.5 468.41 L142.5 467.99 L143.5 467.54 L144.5 467.08 L145.5 466.58 L146.5 466.06 L147.5 465.51 L148.5 464.94 L149.5 464.33 L150.5 463.71 L151.5 463.06 L152.5 462.41 L153.5 461.75 L154.5 461.09 L155.5 460.44 L156.5 459.82 L157.5 459.22 L158.5 458.67 L159.5 458.16 L160.5 457.71 L161.5 457.33 L162.5 457.01 L163.5 456.76 L164.5 456.58 L165.5 456.47 L166.5 456.43 L167.5 456.45 L168.5 456.52 L169.5 456.64 L170.5 456.80 L171.5 457.00 L172.5 457.21 L173.5 457.44 L174.5 457.68 L175.5 457.93 L176.5 458.17 L177.5 458.40 L178.5 458.62 L179.5 458.82 L180.5 459.00 L181.5 459.16 L182.5 459.28 L183.5 459.38 L184.5 459.44 L185.5 459.47 L186.5 459.45 L187.5 459.39 L188.5 459.29 L189.5 459.13 L190.5 458.92 L191.5 458.65 L192.5 458.32 L193.5 457.93 L194.5 457.47 L195.5 456.94 L196.5 456.33 L197.5 455.66 L198.5 454.91 L199.5 454.10 L200.5 453.21 L201.5 452.26 L202.5 451.26 L203.5 450.20 L204.5 449.10 L205.5 447.96 L206.5 446.80 L207.5 445.62 L208.5 444.44 L209.5 443.27 L210.5 442.12 L211.5 441.00 L212.5 439.93 L213.5 438.92 L214.5 437.98 L215.5 437.12 L216.5 436.35 L217.5 435.69 L218.5 435.15 L219.5 434.72 L220.5 434.42 L221.5 434.25 L222.5 434.22 L223.5 434.34 L224.5 434.63 L225.5 435.12 L226.5 435.79 L227.5 436.64 L228.5 437.67 L229.5 438.86 L230.5 440.21 L231.5 441.69 L232.5 443.31 L233.5 445.03 L234.5 446.85 L235.5 448.74 L236.5 450.70 L237.5 452.70 L238.5 454.73 L239.5 456.77 L240.5 458.81 L241.5 460.84 L242.5 462.83 L243.5 464.78 L244.5 466.68 L245.5 468.52 L246.5 470.28 L247.5 471.97 L248.5 473.57 L249.5 475.09 L250.5 476.52 L251.5 477.86 L252.5 479.11 L253.5 480.27 L254.5 481.34 L255.5 482.32 L256.5 483.22 L257.5 484.04 L258.5 484.78 L259.5 485.45 L260.5 486.05 L261.5 486.59 L262.5 487.07 L263.5 487.50 L264.5 487.87 L265.5 488.21 L266.5 488.50 L267.5 488.75 L268.5 488.97 L269.5 489.17 L270.5 489.34 L271.5 489.48 L272.5 489.61 L273.5 489.71 L274.5 489.80 L275.5 489.88 L276.5 489.95 L277.5 490.01 L278.5 490.06 L279.5 490.10 L280.5 490.14 L281.5 490.17 L282.5 490.20 L283.5 490.23 L284.5 490.25 L285.5 490.27 L286.5 490.29 L287.5 490.30 L288.5 490.32 L289.5 490.33 L290.5 490.34 L291.5 490.36 L292.5 490.37 L293.5 490.38 L294.5 490.39 L295.5 490.40 L296.5 490.41 L297.5 490.42 L298.5 490.43 L299.5 490.44 L300.5 490.45 L301.5 490.46 L302.5 490.47 L303.5 490.48 L304.5 490.49 L305.5 490.50 L306.5 490.51 L307.5 490.52 L308.5 490.53 L309.5 490.54 L310.5 490.55 L311.5 490.56 L312.5 490.57 L313.5 490.58 L314.5 490.59 L315.5 490.60 L316.5 490.61 L317.5 490.62 L318.5 490.63 L319.5 490.64 L320.5 490.65 L321.5 490.66" stroke="#d14836"/>
</g>
<line x1="224.90" y1="29.40" x2="224.90" y2="494.50" stroke="#000" stroke-width="1.45" stroke-dasharray="3.4 2.968"/>
<g fill="#000">
<rect x="31.93" y="26.43" width="290.15" height="1.15"/>
<rect x="31.93" y="143.48" width="290.15" height="1.15"/>
<rect x="31.93" y="260.82" width="290.15" height="1.15"/>
<rect x="31.93" y="377.93" width="290.15" height="1.15"/>
<rect x="31.93" y="494.82" width="290.15" height="1.15"/>
<rect x="31.93" y="26.43" width="1.15" height="469.55"/>
<rect x="320.93" y="26.43" width="1.15" height="469.55"/>
<rect x="31.90" y="144.05" width="1.20" height="4.00"/>
<rect x="31.90" y="261.40" width="1.20" height="4.00"/>
<rect x="31.90" y="378.50" width="1.20" height="4.00"/>
<rect x="31.90" y="495.40" width="1.20" height="6.60"/>
<rect x="65.93" y="144.05" width="1.20" height="4.00"/>
<rect x="65.93" y="261.40" width="1.20" height="4.00"/>
<rect x="65.93" y="378.50" width="1.20" height="4.00"/>
<rect x="65.93" y="495.40" width="1.20" height="6.60"/>
<rect x="99.95" y="144.05" width="1.20" height="4.00"/>
<rect x="99.95" y="261.40" width="1.20" height="4.00"/>
<rect x="99.95" y="378.50" width="1.20" height="4.00"/>
<rect x="99.95" y="495.40" width="1.20" height="6.60"/>
<rect x="133.97" y="144.05" width="1.20" height="4.00"/>
<rect x="133.97" y="261.40" width="1.20" height="4.00"/>
<rect x="133.97" y="378.50" width="1.20" height="4.00"/>
<rect x="133.97" y="495.40" width="1.20" height="6.60"/>
<rect x="168.00" y="144.05" width="1.20" height="4.00"/>
<rect x="168.00" y="261.40" width="1.20" height="4.00"/>
<rect x="168.00" y="378.50" width="1.20" height="4.00"/>
<rect x="168.00" y="495.40" width="1.20" height="6.60"/>
<rect x="202.03" y="144.05" width="1.20" height="4.00"/>
<rect x="202.03" y="261.40" width="1.20" height="4.00"/>
<rect x="202.03" y="378.50" width="1.20" height="4.00"/>
<rect x="202.03" y="495.40" width="1.20" height="6.60"/>
<rect x="236.05" y="144.05" width="1.20" height="4.00"/>
<rect x="236.05" y="261.40" width="1.20" height="4.00"/>
<rect x="236.05" y="378.50" width="1.20" height="4.00"/>
<rect x="236.05" y="495.40" width="1.20" height="6.60"/>
<rect x="270.07" y="144.05" width="1.20" height="4.00"/>
<rect x="270.07" y="261.40" width="1.20" height="4.00"/>
<rect x="270.07" y="378.50" width="1.20" height="4.00"/>
<rect x="270.07" y="495.40" width="1.20" height="6.60"/>
<rect x="304.10" y="144.05" width="1.20" height="4.00"/>
<rect x="304.10" y="261.40" width="1.20" height="4.00"/>
<rect x="304.10" y="378.50" width="1.20" height="4.00"/>
<rect x="304.10" y="495.40" width="1.20" height="6.60"/>
</g>
<text x="32.5" y="519.7" font-size="16" text-anchor="middle">358</text>
<text x="66.5" y="519.7" font-size="16" text-anchor="middle">356</text>
<text x="100.5" y="519.7" font-size="16" text-anchor="middle">354</text>
<text x="134.6" y="519.7" font-size="16" text-anchor="middle">352</text>
<text x="168.6" y="519.7" font-size="16" text-anchor="middle">350</text>
<text x="202.6" y="519.7" font-size="16" text-anchor="middle">348</text>
<text x="236.6" y="519.7" font-size="16" text-anchor="middle">346</text>
<text x="270.7" y="519.7" font-size="16" text-anchor="middle">344</text>
<text x="304.7" y="519.7" font-size="16" text-anchor="middle">342</text>
<text x="317.0" y="43.0" font-size="14.5" text-anchor="end">10mins</text>
<text x="317.0" y="164.5" font-size="14.5" text-anchor="end">30mins</text>
<text x="317.0" y="281.5" font-size="14.5" text-anchor="end">60mins</text>
<text x="317.0" y="401.0" font-size="14.5" text-anchor="end">120mins</text>
<rect x="47.5" y="35.1" width="74.4" height="35.3" fill="#999"/>
<rect x="43.5" y="30.5" width="74.4" height="35.3" fill="#fff" stroke="#ccc" stroke-width="0.8"/>
<line x1="44.5" y1="40.1" x2="77.5" y2="40.1" stroke="#3cbdbd" stroke-width="2"/>
<line x1="44.5" y1="56.9" x2="77.5" y2="56.9" stroke="#d14836" stroke-width="2"/>
<text x="80.2" y="44.8" font-size="13.6">silane</text>
<text x="80.2" y="61.5" font-size="13.6">blank</text>
<text transform="translate(17.8 245.5) rotate(-90)" font-size="24.6" text-anchor="middle">Intensity(cps)</text>
<text x="177.0" y="550.8" font-size="24.5" text-anchor="middle">Binding Energy(eV)</text>
<text x="29.7" y="22.0" font-size="30" font-weight="bold">a</text>
<text x="275.0" y="20.0" font-size="20.3">Ca<tspan dx="2" font-style="italic">2p</tspan></text>
<defs><clipPath id="cb"><rect x="397.0" y="27.3" width="287.5" height="466.9"/></clipPath></defs>
<g clip-path="url(#cb)" fill="none" stroke-width="2.2" stroke-linejoin="round">
<path d="M397.0 136.74 L398.0 136.74 L399.0 136.75 L400.0 136.76 L401.0 136.77 L402.0 136.77 L403.0 136.78 L404.0 136.79 L405.0 136.79 L406.0 136.80 L407.0 136.80 L408.0 136.81 L409.0 136.82 L410.0 136.82 L411.0 136.83 L412.0 136.83 L413.0 136.84 L414.0 136.84 L415.0 136.84 L416.0 136.85 L417.0 136.85 L418.0 136.85 L419.0 136.86 L420.0 136.86 L421.0 136.86 L422.0 136.86 L423.0 136.86 L424.0 136.86 L425.0 136.85 L426.0 136.85 L427.0 136.84 L428.0 136.84 L429.0 136.83 L430.0 136.82 L431.0 136.81 L432.0 136.80 L433.0 136.79 L434.0 136.77 L435.0 136.76 L436.0 136.74 L437.0 136.72 L438.0 136.69 L439.0 136.67 L440.0 136.64 L441.0 136.61 L442.0 136.57 L443.0 136.53 L444.0 136.49 L445.0 136.45 L446.0 136.40 L447.0 136.34 L448.0 136.28 L449.0 136.22 L450.0 136.15 L451.0 136.08 L452.0 136.00 L453.0 135.92 L454.0 135.82 L455.0 135.73 L456.0 135.62 L457.0 135.51 L458.0 135.39 L459.0 135.26 L460.0 135.13 L461.0 134.99 L462.0 134.83 L463.0 134.67 L464.0 134.50 L465.0 134.32 L466.0 134.13 L467.0 133.93 L468.0 133.71 L469.0 133.49 L470.0 133.25 L471.0 133.01 L472.0 132.75 L473.0 132.47 L474.0 132.19 L475.0 131.89 L476.0 131.58 L477.0 131.26 L478.0 130.92 L479.0 130.57 L480.0 130.21 L481.0 129.83 L482.0 129.44 L483.0 129.03 L484.0 128.61 L485.0 128.18 L486.0 127.73 L487.0 127.27 L488.0 126.80 L489.0 126.31 L490.0 125.81 L491.0 125.29 L492.0 124.77 L493.0 124.23 L494.0 123.68 L495.0 123.13 L496.0 122.56 L497.0 121.98 L498.0 121.39 L499.0 120.79 L500.0 120.19 L501.0 119.58 L502.0 118.96 L503.0 118.34 L504.0 117.71 L505.0 117.09 L506.0 116.45 L507.0 115.82 L508.0 115.19 L509.0 114.56 L510.0 113.94 L511.0 113.31 L512.0 112.69 L513.0 112.08 L514.0 111.48 L515.0 110.88 L516.0 110.29 L517.0 109.72 L518.0 109.16 L519.0 108.61 L520.0 108.07 L521.0 107.56 L522.0 107.06 L523.0 106.58 L524.0 106.12 L525.0 105.68 L526.0 105.26 L527.0 104.87 L528.0 104.50 L529.0 104.16 L530.0 103.84 L531.0 103.55 L532.0 103.29 L533.0 103.06 L534.0 102.86 L535.0 102.69 L536.0 102.54 L537.0 102.43 L538.0 102.35 L539.0 102.31 L540.0 102.29 L541.0 102.30 L542.0 102.34 L543.0 102.41 L544.0 102.50 L545.0 102.62 L546.0 102.76 L547.0 102.93 L548.0 103.12 L549.0 103.34 L550.0 103.59 L551.0 103.85 L552.0 104.14 L553.0 104.45 L554.0 104.78 L555.0 105.14 L556.0 105.51 L557.0 105.90 L558.0 106.32 L559.0 106.74 L560.0 107.19 L561.0 107.65 L562.0 108.12 L563.0 108.61 L564.0 109.11 L565.0 109.63 L566.0 110.15 L567.0 110.68 L568.0 111.23 L569.0 111.78 L570.0 112.33 L571.0 112.90 L572.0 113.46 L573.0 114.03 L574.0 114.61 L575.0 115.18 L576.0 115.76 L577.0 116.34 L578.0 116.92 L579.0 117.49 L580.0 118.07 L581.0 118.64 L582.0 119.21 L583.0 119.77 L584.0 120.33 L585.0 120.88 L586.0 121.43 L587.0 121.96 L588.0 122.50 L589.0 123.02 L590.0 123.54 L591.0 124.04 L592.0 124.54 L593.0 125.03 L594.0 125.51 L595.0 125.98 L596.0 126.43 L597.0 126.88 L598.0 127.32 L599.0 127.74 L600.0 128.16 L601.0 128.56 L602.0 128.95 L603.0 129.33 L604.0 129.70 L605.0 130.06 L606.0 130.41 L607.0 130.74 L608.0 131.07 L609.0 131.38 L610.0 131.68 L611.0 131.98 L612.0 132.26 L613.0 132.53 L614.0 132.79 L615.0 133.04 L616.0 133.28 L617.0 133.51 L618.0 133.73 L619.0 133.94 L620.0 134.14 L621.0 134.34 L622.0 134.52 L623.0 134.70 L624.0 134.87 L625.0 135.03 L626.0 135.18 L627.0 135.33 L628.0 135.47 L629.0 135.60 L630.0 135.73 L631.0 135.85 L632.0 135.96 L633.0 136.07 L634.0 136.17 L635.0 136.27 L636.0 136.36 L637.0 136.45 L638.0 136.53 L639.0 136.61 L640.0 136.68 L641.0 136.76 L642.0 136.82 L643.0 136.89 L644.0 136.95 L645.0 137.00 L646.0 137.06 L647.0 137.11 L648.0 137.15 L649.0 137.20 L650.0 137.24 L651.0 137.28 L652.0 137.32 L653.0 137.36 L654.0 137.40 L655.0 137.43 L656.0 137.46 L657.0 137.49 L658.0 137.52 L659.0 137.55 L660.0 137.57 L661.0 137.60 L662.0 137.62 L663.0 137.64 L664.0 137.66 L665.0 137.69 L666.0 137.71 L667.0 137.72 L668.0 137.74 L669.0 137.76 L670.0 137.78 L671.0 137.79 L672.0 137.81 L673.0 137.83 L674.0 137.84 L675.0 137.86 L676.0 137.87 L677.0 137.89 L678.0 137.90 L679.0 137.91 L680.0 137.93 L681.0 137.94 L682.0 137.95 L683.0 137.96 L684.0 137.98" stroke="#3cbdbd"/>
<path d="M397.0 127.93 L398.0 127.94 L399.0 127.94 L400.0 127.96 L401.0 127.97 L402.0 127.98 L403.0 127.99 L404.0 128.00 L405.0 128.02 L406.0 128.03 L407.0 128.04 L408.0 128.05 L409.0 128.07 L410.0 128.08 L411.0 128.09 L412.0 128.10 L413.0 128.11 L414.0 128.12 L415.0 128.13 L416.0 128.14 L417.0 128.15 L418.0 128.16 L419.0 128.17 L420.0 128.17 L421.0 128.18 L422.0 128.19 L423.0 128.19 L424.0 128.20 L425.0 128.20 L426.0 128.20 L427.0 128.21 L428.0 128.21 L429.0 128.21 L430.0 128.21 L431.0 128.21 L432.0 128.20 L433.0 128.20 L434.0 128.19 L435.0 128.19 L436.0 128.18 L437.0 128.17 L438.0 128.15 L439.0 128.14 L440.0 128.12 L441.0 128.11 L442.0 128.08 L443.0 128.06 L444.0 128.04 L445.0 128.01 L446.0 127.97 L447.0 127.94 L448.0 127.90 L449.0 127.86 L450.0 127.81 L451.0 127.76 L452.0 127.71 L453.0 127.65 L454.0 127.59 L455.0 127.52 L456.0 127.45 L457.0 127.37 L458.0 127.28 L459.0 127.19 L460.0 127.09 L461.0 126.99 L462.0 126.87 L463.0 126.76 L464.0 126.63 L465.0 126.49 L466.0 126.35 L467.0 126.19 L468.0 126.03 L469.0 125.85 L470.0 125.67 L471.0 125.47 L472.0 125.27 L473.0 125.05 L474.0 124.82 L475.0 124.57 L476.0 124.32 L477.0 124.05 L478.0 123.76 L479.0 123.46 L480.0 123.15 L481.0 122.82 L482.0 122.47 L483.0 122.10 L484.0 121.72 L485.0 121.32 L486.0 120.91 L487.0 120.47 L488.0 120.02 L489.0 119.54 L490.0 119.05 L491.0 118.53 L492.0 118.00 L493.0 117.44 L494.0 116.86 L495.0 116.26 L496.0 115.63 L497.0 114.99 L498.0 114.32 L499.0 113.63 L500.0 112.92 L501.0 112.18 L502.0 111.42 L503.0 110.63 L504.0 109.82 L505.0 108.99 L506.0 108.14 L507.0 107.26 L508.0 106.36 L509.0 105.44 L510.0 104.49 L511.0 103.52 L512.0 102.53 L513.0 101.52 L514.0 100.49 L515.0 99.44 L516.0 98.37 L517.0 97.28 L518.0 96.17 L519.0 95.04 L520.0 93.90 L521.0 92.74 L522.0 91.57 L523.0 90.39 L524.0 89.19 L525.0 87.98 L526.0 86.76 L527.0 85.54 L528.0 84.31 L529.0 83.07 L530.0 81.83 L531.0 80.58 L532.0 79.34 L533.0 78.09 L534.0 76.85 L535.0 75.62 L536.0 74.39 L537.0 73.16 L538.0 71.95 L539.0 70.75 L540.0 69.56 L541.0 68.39 L542.0 67.24 L543.0 66.11 L544.0 65.00 L545.0 63.91 L546.0 62.85 L547.0 61.82 L548.0 60.81 L549.0 59.84 L550.0 58.90 L551.0 58.00 L552.0 57.14 L553.0 56.31 L554.0 55.53 L555.0 54.79 L556.0 54.10 L557.0 53.45 L558.0 52.85 L559.0 52.30 L560.0 51.81 L561.0 51.36 L562.0 50.98 L563.0 50.65 L564.0 50.40 L565.0 50.21 L566.0 50.10 L567.0 50.09 L568.0 50.17 L569.0 50.35 L570.0 50.65 L571.0 51.07 L572.0 51.62 L573.0 52.29 L574.0 53.10 L575.0 54.03 L576.0 55.08 L577.0 56.25 L578.0 57.54 L579.0 58.93 L580.0 60.41 L581.0 61.98 L582.0 63.64 L583.0 65.36 L584.0 67.15 L585.0 68.99 L586.0 70.87 L587.0 72.79 L588.0 74.74 L589.0 76.70 L590.0 78.68 L591.0 80.66 L592.0 82.64 L593.0 84.61 L594.0 86.56 L595.0 88.48 L596.0 90.38 L597.0 92.25 L598.0 94.08 L599.0 95.86 L600.0 97.60 L601.0 99.29 L602.0 100.93 L603.0 102.51 L604.0 104.03 L605.0 105.50 L606.0 106.91 L607.0 108.26 L608.0 109.55 L609.0 110.78 L610.0 111.95 L611.0 113.06 L612.0 114.11 L613.0 115.10 L614.0 116.04 L615.0 116.92 L616.0 117.75 L617.0 118.52 L618.0 119.25 L619.0 119.93 L620.0 120.57 L621.0 121.16 L622.0 121.71 L623.0 122.22 L624.0 122.70 L625.0 123.13 L626.0 123.54 L627.0 123.92 L628.0 124.26 L629.0 124.58 L630.0 124.88 L631.0 125.15 L632.0 125.40 L633.0 125.63 L634.0 125.84 L635.0 126.04 L636.0 126.22 L637.0 126.38 L638.0 126.53 L639.0 126.68 L640.0 126.81 L641.0 126.93 L642.0 127.04 L643.0 127.14 L644.0 127.24 L645.0 127.33 L646.0 127.41 L647.0 127.49 L648.0 127.56 L649.0 127.63 L650.0 127.69 L651.0 127.76 L652.0 127.81 L653.0 127.87 L654.0 127.92 L655.0 127.97 L656.0 128.02 L657.0 128.07 L658.0 128.12 L659.0 128.16 L660.0 128.20 L661.0 128.25 L662.0 128.29 L663.0 128.33 L664.0 128.37 L665.0 128.40 L666.0 128.44 L667.0 128.48 L668.0 128.51 L669.0 128.55 L670.0 128.59 L671.0 128.62 L672.0 128.65 L673.0 128.69 L674.0 128.72 L675.0 128.75 L676.0 128.79 L677.0 128.82 L678.0 128.85 L679.0 128.88 L680.0 128.91 L681.0 128.94 L682.0 128.96 L683.0 128.98 L684.0 129.00" stroke="#d14836"/>
<path d="M397.0 249.50 L398.0 249.48 L399.0 249.46 L400.0 249.45 L401.0 249.43 L402.0 249.41 L403.0 249.39 L404.0 249.38 L405.0 249.36 L406.0 249.34 L407.0 249.32 L408.0 249.30 L409.0 249.28 L410.0 249.26 L411.0 249.24 L412.0 249.22 L413.0 249.20 L414.0 249.18 L415.0 249.16 L416.0 249.13 L417.0 249.11 L418.0 249.09 L419.0 249.06 L420.0 249.04 L421.0 249.01 L422.0 248.99 L423.0 248.96 L424.0 248.93 L425.0 248.90 L426.0 248.87 L427.0 248.84 L428.0 248.81 L429.0 248.78 L430.0 248.75 L431.0 248.71 L432.0 248.67 L433.0 248.64 L434.0 248.60 L435.0 248.56 L436.0 248.51 L437.0 248.47 L438.0 248.42 L439.0 248.38 L440.0 248.33 L441.0 248.27 L442.0 248.22 L443.0 248.16 L444.0 248.10 L445.0 248.04 L446.0 247.98 L447.0 247.91 L448.0 247.84 L449.0 247.76 L450.0 247.69 L451.0 247.60 L452.0 247.52 L453.0 247.43 L454.0 247.34 L455.0 247.24 L456.0 247.14 L457.0 247.03 L458.0 246.92 L459.0 246.80 L460.0 246.68 L461.0 246.55 L462.0 246.41 L463.0 246.27 L464.0 246.12 L465.0 245.97 L466.0 245.81 L467.0 245.64 L468.0 245.46 L469.0 245.27 L470.0 245.08 L471.0 244.88 L472.0 244.67 L473.0 244.45 L474.0 244.22 L475.0 243.98 L476.0 243.74 L477.0 243.48 L478.0 243.21 L479.0 242.93 L480.0 242.64 L481.0 242.34 L482.0 242.03 L483.0 241.70 L484.0 241.36 L485.0 241.01 L486.0 240.65 L487.0 240.28 L488.0 239.89 L489.0 239.49 L490.0 239.08 L491.0 238.65 L492.0 238.22 L493.0 237.76 L494.0 237.30 L495.0 236.82 L496.0 236.32 L497.0 235.81 L498.0 235.29 L499.0 234.76 L500.0 234.21 L501.0 233.65 L502.0 233.07 L503.0 232.48 L504.0 231.88 L505.0 231.27 L506.0 230.64 L507.0 230.00 L508.0 229.35 L509.0 228.69 L510.0 228.02 L511.0 227.33 L512.0 226.64 L513.0 225.93 L514.0 225.22 L515.0 224.50 L516.0 223.76 L517.0 223.03 L518.0 222.28 L519.0 221.53 L520.0 220.78 L521.0 220.01 L522.0 219.25 L523.0 218.48 L524.0 217.72 L525.0 216.95 L526.0 216.18 L527.0 215.41 L528.0 214.64 L529.0 213.88 L530.0 213.12 L531.0 212.37 L532.0 211.62 L533.0 210.89 L534.0 210.16 L535.0 209.44 L536.0 208.73 L537.0 208.04 L538.0 207.36 L539.0 206.70 L540.0 206.05 L541.0 205.43 L542.0 204.82 L543.0 204.23 L544.0 203.67 L545.0 203.13 L546.0 202.62 L547.0 202.13 L548.0 201.67 L549.0 201.24 L550.0 200.84 L551.0 200.47 L552.0 200.13 L553.0 199.83 L554.0 199.56 L555.0 199.33 L556.0 199.13 L557.0 198.97 L558.0 198.84 L559.0 198.75 L560.0 198.70 L561.0 198.69 L562.0 198.74 L563.0 198.89 L564.0 199.15 L565.0 199.49 L566.0 199.93 L567.0 200.46 L568.0 201.08 L569.0 201.78 L570.0 202.56 L571.0 203.40 L572.0 204.32 L573.0 205.29 L574.0 206.32 L575.0 207.40 L576.0 208.51 L577.0 209.67 L578.0 210.86 L579.0 212.07 L580.0 213.30 L581.0 214.55 L582.0 215.80 L583.0 217.06 L584.0 218.32 L585.0 219.58 L586.0 220.83 L587.0 222.07 L588.0 223.29 L589.0 224.50 L590.0 225.68 L591.0 226.84 L592.0 227.97 L593.0 229.08 L594.0 230.15 L595.0 231.20 L596.0 232.20 L597.0 233.18 L598.0 234.12 L599.0 235.02 L600.0 235.89 L601.0 236.72 L602.0 237.51 L603.0 238.27 L604.0 238.99 L605.0 239.67 L606.0 240.32 L607.0 240.93 L608.0 241.51 L609.0 242.05 L610.0 242.57 L611.0 243.05 L612.0 243.50 L613.0 243.93 L614.0 244.32 L615.0 244.69 L616.0 245.04 L617.0 245.36 L618.0 245.66 L619.0 245.93 L620.0 246.19 L621.0 246.42 L622.0 246.64 L623.0 246.84 L624.0 247.03 L625.0 247.20 L626.0 247.36 L627.0 247.51 L628.0 247.64 L629.0 247.76 L630.0 247.88 L631.0 247.98 L632.0 248.07 L633.0 248.16 L634.0 248.24 L635.0 248.31 L636.0 248.38 L637.0 248.44 L638.0 248.50 L639.0 248.55 L640.0 248.60 L641.0 248.64 L642.0 248.68 L643.0 248.72 L644.0 248.76 L645.0 248.79 L646.0 248.82 L647.0 248.85 L648.0 248.87 L649.0 248.90 L650.0 248.92 L651.0 248.94 L652.0 248.96 L653.0 248.98 L654.0 248.99 L655.0 249.01 L656.0 249.02 L657.0 249.04 L658.0 249.05 L659.0 249.06 L660.0 249.07 L661.0 249.08 L662.0 249.10 L663.0 249.11 L664.0 249.11 L665.0 249.12 L666.0 249.13 L667.0 249.14 L668.0 249.15 L669.0 249.15 L670.0 249.16 L671.0 249.17 L672.0 249.17 L673.0 249.18 L674.0 249.18 L675.0 249.19 L676.0 249.19 L677.0 249.20 L678.0 249.20 L679.0 249.21 L680.0 249.21 L681.0 249.21 L682.0 249.22 L683.0 249.22 L684.0 249.22" stroke="#3cbdbd"/>
<path d="M397.0 252.48 L398.0 252.40 L399.0 252.31 L400.0 252.23 L401.0 252.14 L402.0 252.05 L403.0 251.97 L404.0 251.88 L405.0 251.79 L406.0 251.70 L407.0 251.62 L408.0 251.53 L409.0 251.44 L410.0 251.35 L411.0 251.27 L412.0 251.18 L413.0 251.09 L414.0 251.00 L415.0 250.91 L416.0 250.82 L417.0 250.73 L418.0 250.64 L419.0 250.55 L420.0 250.46 L421.0 250.37 L422.0 250.28 L423.0 250.19 L424.0 250.10 L425.0 250.01 L426.0 249.92 L427.0 249.83 L428.0 249.73 L429.0 249.64 L430.0 249.55 L431.0 249.46 L432.0 249.36 L433.0 249.27 L434.0 249.17 L435.0 249.08 L436.0 248.98 L437.0 248.89 L438.0 248.79 L439.0 248.70 L440.0 248.60 L441.0 248.50 L442.0 248.41 L443.0 248.31 L444.0 248.21 L445.0 248.11 L446.0 248.01 L447.0 247.91 L448.0 247.81 L449.0 247.71 L450.0 247.61 L451.0 247.51 L452.0 247.40 L453.0 247.30 L454.0 247.19 L455.0 247.09 L456.0 246.98 L457.0 246.87 L458.0 246.76 L459.0 246.66 L460.0 246.54 L461.0 246.43 L462.0 246.32 L463.0 246.21 L464.0 246.09 L465.0 245.97 L466.0 245.85 L467.0 245.73 L468.0 245.61 L469.0 245.49 L470.0 245.36 L471.0 245.23 L472.0 245.10 L473.0 244.96 L474.0 244.83 L475.0 244.69 L476.0 244.54 L477.0 244.39 L478.0 244.24 L479.0 244.09 L480.0 243.93 L481.0 243.76 L482.0 243.60 L483.0 243.42 L484.0 243.24 L485.0 243.05 L486.0 242.86 L487.0 242.66 L488.0 242.45 L489.0 242.23 L490.0 242.01 L491.0 241.77 L492.0 241.53 L493.0 241.27 L494.0 241.00 L495.0 240.72 L496.0 240.43 L497.0 240.13 L498.0 239.81 L499.0 239.47 L500.0 239.12 L501.0 238.76 L502.0 238.37 L503.0 237.97 L504.0 237.55 L505.0 237.11 L506.0 236.65 L507.0 236.17 L508.0 235.66 L509.0 235.14 L510.0 234.58 L511.0 234.01 L512.0 233.40 L513.0 232.78 L514.0 232.12 L515.0 231.44 L516.0 230.73 L517.0 229.99 L518.0 229.22 L519.0 228.42 L520.0 227.59 L521.0 226.74 L522.0 225.85 L523.0 224.93 L524.0 223.98 L525.0 223.00 L526.0 222.00 L527.0 220.96 L528.0 219.89 L529.0 218.80 L530.0 217.68 L531.0 216.53 L532.0 215.36 L533.0 214.17 L534.0 212.95 L535.0 211.71 L536.0 210.45 L537.0 209.18 L538.0 207.89 L539.0 206.59 L540.0 205.28 L541.0 203.97 L542.0 202.65 L543.0 201.32 L544.0 200.01 L545.0 198.69 L546.0 197.39 L547.0 196.10 L548.0 194.83 L549.0 193.58 L550.0 192.36 L551.0 191.18 L552.0 190.03 L553.0 188.92 L554.0 187.86 L555.0 186.86 L556.0 185.91 L557.0 185.03 L558.0 184.21 L559.0 183.47 L560.0 182.82 L561.0 182.24 L562.0 181.76 L563.0 181.37 L564.0 181.07 L565.0 180.88 L566.0 180.79 L567.0 180.80 L568.0 180.91 L569.0 181.13 L570.0 181.46 L571.0 181.90 L572.0 182.44 L573.0 183.08 L574.0 183.82 L575.0 184.65 L576.0 185.57 L577.0 186.57 L578.0 187.66 L579.0 188.81 L580.0 190.03 L581.0 191.30 L582.0 192.63 L583.0 194.01 L584.0 195.43 L585.0 196.88 L586.0 198.36 L587.0 199.87 L588.0 201.39 L589.0 202.93 L590.0 204.47 L591.0 206.02 L592.0 207.57 L593.0 209.11 L594.0 210.65 L595.0 212.17 L596.0 213.67 L597.0 215.16 L598.0 216.63 L599.0 218.07 L600.0 219.49 L601.0 220.88 L602.0 222.24 L603.0 223.56 L604.0 224.85 L605.0 226.11 L606.0 227.34 L607.0 228.52 L608.0 229.67 L609.0 230.78 L610.0 231.86 L611.0 232.89 L612.0 233.89 L613.0 234.84 L614.0 235.76 L615.0 236.64 L616.0 237.49 L617.0 238.29 L618.0 239.06 L619.0 239.79 L620.0 240.48 L621.0 241.15 L622.0 241.77 L623.0 242.37 L624.0 242.93 L625.0 243.46 L626.0 243.96 L627.0 244.43 L628.0 244.87 L629.0 245.29 L630.0 245.67 L631.0 246.04 L632.0 246.38 L633.0 246.70 L634.0 246.99 L635.0 247.27 L636.0 247.52 L637.0 247.76 L638.0 247.98 L639.0 248.18 L640.0 248.36 L641.0 248.54 L642.0 248.69 L643.0 248.84 L644.0 248.97 L645.0 249.08 L646.0 249.19 L647.0 249.29 L648.0 249.38 L649.0 249.46 L650.0 249.53 L651.0 249.59 L652.0 249.64 L653.0 249.69 L654.0 249.73 L655.0 249.77 L656.0 249.80 L657.0 249.82 L658.0 249.84 L659.0 249.85 L660.0 249.86 L661.0 249.87 L662.0 249.87 L663.0 249.87 L664.0 249.87 L665.0 249.86 L666.0 249.85 L667.0 249.84 L668.0 249.82 L669.0 249.81 L670.0 249.79 L671.0 249.76 L672.0 249.74 L673.0 249.72 L674.0 249.69 L675.0 249.66 L676.0 249.63 L677.0 249.60 L678.0 249.57 L679.0 249.53 L680.0 249.50 L681.0 249.46 L682.0 249.42 L683.0 249.38 L684.0 249.34" stroke="#d14836"/>
<path d="M397.0 366.37 L398.0 366.33 L399.0 366.28 L400.0 366.24 L401.0 366.19 L402.0 366.15 L403.0 366.10 L404.0 366.05 L405.0 366.00 L406.0 365.96 L407.0 365.91 L408.0 365.86 L409.0 365.81 L410.0 365.75 L411.0 365.70 L412.0 365.65 L413.0 365.59 L414.0 365.54 L415.0 365.48 L416.0 365.43 L417.0 365.37 L418.0 365.31 L419.0 365.25 L420.0 365.19 L421.0 365.13 L422.0 365.07 L423.0 365.00 L424.0 364.94 L425.0 364.87 L426.0 364.80 L427.0 364.74 L428.0 364.66 L429.0 364.59 L430.0 364.52 L431.0 364.45 L432.0 364.37 L433.0 364.29 L434.0 364.21 L435.0 364.13 L436.0 364.05 L437.0 363.97 L438.0 363.88 L439.0 363.79 L440.0 363.70 L441.0 363.61 L442.0 363.51 L443.0 363.42 L444.0 363.32 L445.0 363.22 L446.0 363.11 L447.0 363.00 L448.0 362.90 L449.0 362.78 L450.0 362.67 L451.0 362.55 L452.0 362.43 L453.0 362.30 L454.0 362.18 L455.0 362.04 L456.0 361.91 L457.0 361.77 L458.0 361.63 L459.0 361.48 L460.0 361.33 L461.0 361.18 L462.0 361.02 L463.0 360.85 L464.0 360.68 L465.0 360.51 L466.0 360.33 L467.0 360.15 L468.0 359.96 L469.0 359.76 L470.0 359.56 L471.0 359.35 L472.0 359.14 L473.0 358.92 L474.0 358.70 L475.0 358.46 L476.0 358.22 L477.0 357.98 L478.0 357.72 L479.0 357.46 L480.0 357.19 L481.0 356.92 L482.0 356.63 L483.0 356.34 L484.0 356.04 L485.0 355.73 L486.0 355.41 L487.0 355.08 L488.0 354.74 L489.0 354.40 L490.0 354.04 L491.0 353.67 L492.0 353.29 L493.0 352.91 L494.0 352.51 L495.0 352.10 L496.0 351.68 L497.0 351.25 L498.0 350.81 L499.0 350.36 L500.0 349.89 L501.0 349.42 L502.0 348.93 L503.0 348.43 L504.0 347.92 L505.0 347.40 L506.0 346.86 L507.0 346.31 L508.0 345.75 L509.0 345.18 L510.0 344.60 L511.0 344.00 L512.0 343.39 L513.0 342.77 L514.0 342.14 L515.0 341.50 L516.0 340.84 L517.0 340.17 L518.0 339.49 L519.0 338.80 L520.0 338.10 L521.0 337.39 L522.0 336.67 L523.0 335.94 L524.0 335.20 L525.0 334.45 L526.0 333.69 L527.0 332.93 L528.0 332.16 L529.0 331.38 L530.0 330.60 L531.0 329.82 L532.0 329.03 L533.0 328.24 L534.0 327.45 L535.0 326.66 L536.0 325.88 L537.0 325.10 L538.0 324.32 L539.0 323.55 L540.0 322.79 L541.0 322.04 L542.0 321.31 L543.0 320.58 L544.0 319.88 L545.0 319.19 L546.0 318.53 L547.0 317.89 L548.0 317.27 L549.0 316.68 L550.0 316.13 L551.0 315.60 L552.0 315.11 L553.0 314.66 L554.0 314.24 L555.0 313.86 L556.0 313.53 L557.0 313.24 L558.0 313.00 L559.0 312.80 L560.0 312.65 L561.0 312.54 L562.0 312.49 L563.0 312.48 L564.0 312.56 L565.0 312.76 L566.0 313.07 L567.0 313.49 L568.0 314.02 L569.0 314.65 L570.0 315.37 L571.0 316.19 L572.0 317.08 L573.0 318.04 L574.0 319.07 L575.0 320.15 L576.0 321.27 L577.0 322.44 L578.0 323.63 L579.0 324.85 L580.0 326.09 L581.0 327.33 L582.0 328.58 L583.0 329.83 L584.0 331.07 L585.0 332.31 L586.0 333.53 L587.0 334.73 L588.0 335.91 L589.0 337.07 L590.0 338.21 L591.0 339.33 L592.0 340.41 L593.0 341.47 L594.0 342.50 L595.0 343.50 L596.0 344.47 L597.0 345.41 L598.0 346.32 L599.0 347.20 L600.0 348.04 L601.0 348.86 L602.0 349.65 L603.0 350.41 L604.0 351.14 L605.0 351.84 L606.0 352.51 L607.0 353.15 L608.0 353.77 L609.0 354.37 L610.0 354.93 L611.0 355.48 L612.0 355.99 L613.0 356.49 L614.0 356.96 L615.0 357.41 L616.0 357.85 L617.0 358.26 L618.0 358.65 L619.0 359.02 L620.0 359.38 L621.0 359.72 L622.0 360.04 L623.0 360.35 L624.0 360.64 L625.0 360.92 L626.0 361.19 L627.0 361.44 L628.0 361.69 L629.0 361.92 L630.0 362.14 L631.0 362.34 L632.0 362.54 L633.0 362.73 L634.0 362.92 L635.0 363.09 L636.0 363.26 L637.0 363.41 L638.0 363.56 L639.0 363.71 L640.0 363.85 L641.0 363.98 L642.0 364.11 L643.0 364.23 L644.0 364.34 L645.0 364.46 L646.0 364.56 L647.0 364.67 L648.0 364.76 L649.0 364.86 L650.0 364.95 L651.0 365.04 L652.0 365.12 L653.0 365.21 L654.0 365.28 L655.0 365.36 L656.0 365.43 L657.0 365.50 L658.0 365.57 L659.0 365.64 L660.0 365.70 L661.0 365.76 L662.0 365.82 L663.0 365.88 L664.0 365.94 L665.0 365.99 L666.0 366.04 L667.0 366.09 L668.0 366.14 L669.0 366.19 L670.0 366.23 L671.0 366.28 L672.0 366.32 L673.0 366.36 L674.0 366.40 L675.0 366.44 L676.0 366.48 L677.0 366.52 L678.0 366.55 L679.0 366.59 L680.0 366.62 L681.0 366.65 L682.0 366.69 L683.0 366.72 L684.0 366.75" stroke="#3cbdbd"/>
<path d="M397.0 361.49 L398.0 361.43 L399.0 361.37 L400.0 361.31 L401.0 361.25 L402.0 361.19 L403.0 361.12 L404.0 361.06 L405.0 361.00 L406.0 360.94 L407.0 360.87 L408.0 360.81 L409.0 360.75 L410.0 360.68 L411.0 360.62 L412.0 360.55 L413.0 360.49 L414.0 360.42 L415.0 360.36 L416.0 360.29 L417.0 360.22 L418.0 360.16 L419.0 360.09 L420.0 360.02 L421.0 359.95 L422.0 359.88 L423.0 359.81 L424.0 359.74 L425.0 359.67 L426.0 359.60 L427.0 359.53 L428.0 359.46 L429.0 359.39 L430.0 359.31 L431.0 359.24 L432.0 359.16 L433.0 359.09 L434.0 359.01 L435.0 358.93 L436.0 358.85 L437.0 358.78 L438.0 358.69 L439.0 358.61 L440.0 358.53 L441.0 358.45 L442.0 358.36 L443.0 358.28 L444.0 358.19 L445.0 358.10 L446.0 358.01 L447.0 357.92 L448.0 357.83 L449.0 357.74 L450.0 357.64 L451.0 357.54 L452.0 357.44 L453.0 357.34 L454.0 357.23 L455.0 357.13 L456.0 357.02 L457.0 356.91 L458.0 356.79 L459.0 356.67 L460.0 356.55 L461.0 356.43 L462.0 356.30 L463.0 356.17 L464.0 356.03 L465.0 355.89 L466.0 355.74 L467.0 355.59 L468.0 355.43 L469.0 355.27 L470.0 355.10 L471.0 354.93 L472.0 354.75 L473.0 354.56 L474.0 354.36 L475.0 354.16 L476.0 353.95 L477.0 353.72 L478.0 353.49 L479.0 353.25 L480.0 353.00 L481.0 352.73 L482.0 352.46 L483.0 352.17 L484.0 351.87 L485.0 351.56 L486.0 351.23 L487.0 350.89 L488.0 350.53 L489.0 350.15 L490.0 349.76 L491.0 349.35 L492.0 348.92 L493.0 348.48 L494.0 348.01 L495.0 347.52 L496.0 347.02 L497.0 346.49 L498.0 345.93 L499.0 345.36 L500.0 344.76 L501.0 344.13 L502.0 343.48 L503.0 342.81 L504.0 342.11 L505.0 341.38 L506.0 340.62 L507.0 339.84 L508.0 339.03 L509.0 338.19 L510.0 337.32 L511.0 336.42 L512.0 335.50 L513.0 334.54 L514.0 333.56 L515.0 332.54 L516.0 331.50 L517.0 330.43 L518.0 329.32 L519.0 328.20 L520.0 327.04 L521.0 325.85 L522.0 324.64 L523.0 323.41 L524.0 322.15 L525.0 320.86 L526.0 319.56 L527.0 318.23 L528.0 316.88 L529.0 315.51 L530.0 314.13 L531.0 312.73 L532.0 311.32 L533.0 309.90 L534.0 308.47 L535.0 307.03 L536.0 305.59 L537.0 304.15 L538.0 302.71 L539.0 301.27 L540.0 299.84 L541.0 298.43 L542.0 297.03 L543.0 295.64 L544.0 294.28 L545.0 292.95 L546.0 291.64 L547.0 290.37 L548.0 289.14 L549.0 287.95 L550.0 286.81 L551.0 285.72 L552.0 284.69 L553.0 283.72 L554.0 282.82 L555.0 281.98 L556.0 281.22 L557.0 280.54 L558.0 279.94 L559.0 279.42 L560.0 279.00 L561.0 278.66 L562.0 278.42 L563.0 278.28 L564.0 278.23 L565.0 278.28 L566.0 278.43 L567.0 278.73 L568.0 279.16 L569.0 279.72 L570.0 280.42 L571.0 281.24 L572.0 282.19 L573.0 283.25 L574.0 284.42 L575.0 285.69 L576.0 287.05 L577.0 288.50 L578.0 290.02 L579.0 291.62 L580.0 293.27 L581.0 294.98 L582.0 296.73 L583.0 298.53 L584.0 300.35 L585.0 302.19 L586.0 304.06 L587.0 305.93 L588.0 307.81 L589.0 309.69 L590.0 311.57 L591.0 313.43 L592.0 315.28 L593.0 317.11 L594.0 318.92 L595.0 320.70 L596.0 322.45 L597.0 324.17 L598.0 325.85 L599.0 327.50 L600.0 329.11 L601.0 330.67 L602.0 332.20 L603.0 333.68 L604.0 335.11 L605.0 336.50 L606.0 337.85 L607.0 339.14 L608.0 340.39 L609.0 341.59 L610.0 342.75 L611.0 343.86 L612.0 344.92 L613.0 345.93 L614.0 346.90 L615.0 347.83 L616.0 348.71 L617.0 349.55 L618.0 350.34 L619.0 351.10 L620.0 351.82 L621.0 352.50 L622.0 353.14 L623.0 353.74 L624.0 354.31 L625.0 354.85 L626.0 355.36 L627.0 355.84 L628.0 356.28 L629.0 356.70 L630.0 357.10 L631.0 357.46 L632.0 357.81 L633.0 358.13 L634.0 358.43 L635.0 358.71 L636.0 358.97 L637.0 359.21 L638.0 359.44 L639.0 359.65 L640.0 359.84 L641.0 360.03 L642.0 360.19 L643.0 360.35 L644.0 360.49 L645.0 360.63 L646.0 360.75 L647.0 360.87 L648.0 360.97 L649.0 361.07 L650.0 361.16 L651.0 361.24 L652.0 361.32 L653.0 361.39 L654.0 361.45 L655.0 361.51 L656.0 361.57 L657.0 361.62 L658.0 361.66 L659.0 361.71 L660.0 361.74 L661.0 361.78 L662.0 361.81 L663.0 361.84 L664.0 361.86 L665.0 361.89 L666.0 361.91 L667.0 361.93 L668.0 361.94 L669.0 361.96 L670.0 361.97 L671.0 361.98 L672.0 361.99 L673.0 362.00 L674.0 362.00 L675.0 362.01 L676.0 362.01 L677.0 362.01 L678.0 362.01 L679.0 362.01 L680.0 362.01 L681.0 362.01 L682.0 362.00 L683.0 362.00 L684.0 361.99" stroke="#d14836"/>
<path d="M397.0 481.52 L398.0 481.50 L399.0 481.48 L400.0 481.46 L401.0 481.44 L402.0 481.42 L403.0 481.40 L404.0 481.38 L405.0 481.36 L406.0 481.34 L407.0 481.31 L408.0 481.29 L409.0 481.27 L410.0 481.25 L411.0 481.23 L412.0 481.21 L413.0 481.18 L414.0 481.16 L415.0 481.14 L416.0 481.11 L417.0 481.09 L418.0 481.07 L419.0 481.04 L420.0 481.02 L421.0 480.99 L422.0 480.97 L423.0 480.94 L424.0 480.92 L425.0 480.89 L426.0 480.86 L427.0 480.84 L428.0 480.81 L429.0 480.78 L430.0 480.75 L431.0 480.73 L432.0 480.70 L433.0 480.67 L434.0 480.64 L435.0 480.61 L436.0 480.58 L437.0 480.55 L438.0 480.51 L439.0 480.48 L440.0 480.45 L441.0 480.41 L442.0 480.38 L443.0 480.34 L444.0 480.31 L445.0 480.27 L446.0 480.23 L447.0 480.20 L448.0 480.16 L449.0 480.12 L450.0 480.07 L451.0 480.03 L452.0 479.99 L453.0 479.94 L454.0 479.89 L455.0 479.85 L456.0 479.80 L457.0 479.74 L458.0 479.69 L459.0 479.63 L460.0 479.58 L461.0 479.52 L462.0 479.45 L463.0 479.39 L464.0 479.32 L465.0 479.25 L466.0 479.17 L467.0 479.09 L468.0 479.01 L469.0 478.92 L470.0 478.83 L471.0 478.73 L472.0 478.62 L473.0 478.51 L474.0 478.40 L475.0 478.28 L476.0 478.14 L477.0 478.01 L478.0 477.86 L479.0 477.70 L480.0 477.54 L481.0 477.36 L482.0 477.17 L483.0 476.98 L484.0 476.76 L485.0 476.54 L486.0 476.30 L487.0 476.04 L488.0 475.77 L489.0 475.49 L490.0 475.18 L491.0 474.86 L492.0 474.51 L493.0 474.15 L494.0 473.76 L495.0 473.35 L496.0 472.92 L497.0 472.46 L498.0 471.98 L499.0 471.47 L500.0 470.93 L501.0 470.37 L502.0 469.77 L503.0 469.15 L504.0 468.49 L505.0 467.80 L506.0 467.08 L507.0 466.33 L508.0 465.54 L509.0 464.71 L510.0 463.86 L511.0 462.97 L512.0 462.04 L513.0 461.08 L514.0 460.08 L515.0 459.05 L516.0 457.98 L517.0 456.88 L518.0 455.75 L519.0 454.58 L520.0 453.38 L521.0 452.15 L522.0 450.90 L523.0 449.61 L524.0 448.30 L525.0 446.97 L526.0 445.61 L527.0 444.23 L528.0 442.83 L529.0 441.42 L530.0 440.00 L531.0 438.57 L532.0 437.14 L533.0 435.70 L534.0 434.26 L535.0 432.83 L536.0 431.41 L537.0 430.00 L538.0 428.61 L539.0 427.24 L540.0 425.90 L541.0 424.59 L542.0 423.32 L543.0 422.10 L544.0 420.92 L545.0 419.80 L546.0 418.73 L547.0 417.73 L548.0 416.80 L549.0 415.94 L550.0 415.17 L551.0 414.47 L552.0 413.87 L553.0 413.36 L554.0 412.94 L555.0 412.63 L556.0 412.41 L557.0 412.30 L558.0 412.29 L559.0 412.36 L560.0 412.51 L561.0 412.73 L562.0 413.02 L563.0 413.39 L564.0 413.83 L565.0 414.33 L566.0 414.90 L567.0 415.54 L568.0 416.23 L569.0 416.98 L570.0 417.79 L571.0 418.65 L572.0 419.56 L573.0 420.51 L574.0 421.51 L575.0 422.54 L576.0 423.61 L577.0 424.71 L578.0 425.83 L579.0 426.99 L580.0 428.16 L581.0 429.36 L582.0 430.57 L583.0 431.79 L584.0 433.02 L585.0 434.26 L586.0 435.51 L587.0 436.76 L588.0 438.01 L589.0 439.25 L590.0 440.49 L591.0 441.73 L592.0 442.95 L593.0 444.17 L594.0 445.38 L595.0 446.57 L596.0 447.74 L597.0 448.90 L598.0 450.04 L599.0 451.17 L600.0 452.27 L601.0 453.35 L602.0 454.41 L603.0 455.45 L604.0 456.46 L605.0 457.45 L606.0 458.41 L607.0 459.35 L608.0 460.26 L609.0 461.15 L610.0 462.01 L611.0 462.85 L612.0 463.66 L613.0 464.44 L614.0 465.20 L615.0 465.93 L616.0 466.64 L617.0 467.31 L618.0 467.97 L619.0 468.60 L620.0 469.20 L621.0 469.79 L622.0 470.34 L623.0 470.88 L624.0 471.39 L625.0 471.88 L626.0 472.34 L627.0 472.79 L628.0 473.22 L629.0 473.62 L630.0 474.01 L631.0 474.38 L632.0 474.73 L633.0 475.06 L634.0 475.38 L635.0 475.68 L636.0 475.97 L637.0 476.24 L638.0 476.49 L639.0 476.74 L640.0 476.97 L641.0 477.18 L642.0 477.39 L643.0 477.58 L644.0 477.77 L645.0 477.94 L646.0 478.10 L647.0 478.26 L648.0 478.40 L649.0 478.54 L650.0 478.67 L651.0 478.79 L652.0 478.91 L653.0 479.02 L654.0 479.12 L655.0 479.22 L656.0 479.31 L657.0 479.39 L658.0 479.47 L659.0 479.55 L660.0 479.62 L661.0 479.69 L662.0 479.75 L663.0 479.81 L664.0 479.87 L665.0 479.93 L666.0 479.98 L667.0 480.02 L668.0 480.07 L669.0 480.11 L670.0 480.15 L671.0 480.19 L672.0 480.23 L673.0 480.26 L674.0 480.30 L675.0 480.33 L676.0 480.36 L677.0 480.39 L678.0 480.41 L679.0 480.44 L680.0 480.46 L681.0 480.49 L682.0 480.51 L683.0 480.53 L684.0 480.55" stroke="#3cbdbd"/>
<path d="M397.0 477.15 L398.0 477.11 L399.0 477.07 L400.0 477.03 L401.0 476.99 L402.0 476.95 L403.0 476.90 L404.0 476.85 L405.0 476.79 L406.0 476.74 L407.0 476.68 L408.0 476.62 L409.0 476.55 L410.0 476.49 L411.0 476.42 L412.0 476.35 L413.0 476.28 L414.0 476.20 L415.0 476.13 L416.0 476.05 L417.0 475.97 L418.0 475.89 L419.0 475.80 L420.0 475.71 L421.0 475.62 L422.0 475.53 L423.0 475.43 L424.0 475.33 L425.0 475.22 L426.0 475.12 L427.0 475.01 L428.0 474.89 L429.0 474.77 L430.0 474.64 L431.0 474.51 L432.0 474.37 L433.0 474.23 L434.0 474.08 L435.0 473.93 L436.0 473.77 L437.0 473.60 L438.0 473.42 L439.0 473.23 L440.0 473.04 L441.0 472.84 L442.0 472.62 L443.0 472.40 L444.0 472.17 L445.0 471.93 L446.0 471.68 L447.0 471.41 L448.0 471.14 L449.0 470.85 L450.0 470.56 L451.0 470.25 L452.0 469.92 L453.0 469.59 L454.0 469.24 L455.0 468.88 L456.0 468.51 L457.0 468.13 L458.0 467.73 L459.0 467.32 L460.0 466.90 L461.0 466.47 L462.0 466.02 L463.0 465.56 L464.0 465.09 L465.0 464.62 L466.0 464.12 L467.0 463.62 L468.0 463.11 L469.0 462.60 L470.0 462.07 L471.0 461.53 L472.0 460.99 L473.0 460.44 L474.0 459.89 L475.0 459.33 L476.0 458.76 L477.0 458.19 L478.0 457.62 L479.0 457.05 L480.0 456.47 L481.0 455.90 L482.0 455.32 L483.0 454.75 L484.0 454.17 L485.0 453.60 L486.0 453.03 L487.0 452.46 L488.0 451.89 L489.0 451.33 L490.0 450.77 L491.0 450.21 L492.0 449.66 L493.0 449.11 L494.0 448.57 L495.0 448.03 L496.0 447.49 L497.0 446.96 L498.0 446.43 L499.0 445.90 L500.0 445.38 L501.0 444.86 L502.0 444.34 L503.0 443.82 L504.0 443.30 L505.0 442.78 L506.0 442.26 L507.0 441.74 L508.0 441.22 L509.0 440.69 L510.0 440.16 L511.0 439.63 L512.0 439.09 L513.0 438.54 L514.0 438.00 L515.0 437.44 L516.0 436.88 L517.0 436.31 L518.0 435.73 L519.0 435.15 L520.0 434.56 L521.0 433.96 L522.0 433.35 L523.0 432.74 L524.0 432.12 L525.0 431.49 L526.0 430.87 L527.0 430.25 L528.0 429.62 L529.0 428.98 L530.0 428.33 L531.0 427.67 L532.0 427.01 L533.0 426.33 L534.0 425.66 L535.0 424.97 L536.0 424.29 L537.0 423.60 L538.0 422.91 L539.0 422.22 L540.0 421.53 L541.0 420.85 L542.0 420.18 L543.0 419.51 L544.0 418.86 L545.0 418.22 L546.0 417.60 L547.0 417.00 L548.0 416.42 L549.0 415.88 L550.0 415.36 L551.0 414.97 L552.0 414.62 L553.0 414.32 L554.0 414.07 L555.0 413.88 L556.0 413.75 L557.0 413.67 L558.0 413.65 L559.0 413.69 L560.0 413.79 L561.0 413.95 L562.0 414.19 L563.0 414.49 L564.0 414.86 L565.0 415.30 L566.0 415.80 L567.0 416.36 L568.0 416.99 L569.0 417.68 L570.0 418.42 L571.0 419.22 L572.0 420.07 L573.0 420.96 L574.0 421.90 L575.0 422.88 L576.0 423.90 L577.0 424.95 L578.0 426.04 L579.0 427.15 L580.0 428.29 L581.0 429.45 L582.0 430.62 L583.0 431.81 L584.0 433.02 L585.0 434.23 L586.0 435.45 L587.0 436.67 L588.0 437.90 L589.0 439.12 L590.0 440.34 L591.0 441.56 L592.0 442.76 L593.0 443.96 L594.0 445.15 L595.0 446.32 L596.0 447.48 L597.0 448.63 L598.0 449.76 L599.0 450.87 L600.0 451.95 L601.0 453.02 L602.0 454.07 L603.0 455.09 L604.0 456.10 L605.0 457.07 L606.0 458.03 L607.0 458.96 L608.0 459.86 L609.0 460.74 L610.0 461.59 L611.0 462.41 L612.0 463.21 L613.0 463.99 L614.0 464.73 L615.0 465.45 L616.0 466.15 L617.0 466.82 L618.0 467.46 L619.0 468.08 L620.0 468.68 L621.0 469.24 L622.0 469.79 L623.0 470.31 L624.0 470.81 L625.0 471.29 L626.0 471.74 L627.0 472.18 L628.0 472.59 L629.0 472.98 L630.0 473.35 L631.0 473.71 L632.0 474.04 L633.0 474.36 L634.0 474.66 L635.0 474.94 L636.0 475.21 L637.0 475.46 L638.0 475.70 L639.0 475.92 L640.0 476.13 L641.0 476.33 L642.0 476.51 L643.0 476.69 L644.0 476.85 L645.0 477.00 L646.0 477.14 L647.0 477.27 L648.0 477.40 L649.0 477.51 L650.0 477.61 L651.0 477.71 L652.0 477.80 L653.0 477.88 L654.0 477.96 L655.0 478.03 L656.0 478.10 L657.0 478.15 L658.0 478.21 L659.0 478.26 L660.0 478.30 L661.0 478.34 L662.0 478.38 L663.0 478.41 L664.0 478.43 L665.0 478.46 L666.0 478.48 L667.0 478.50 L668.0 478.51 L669.0 478.53 L670.0 478.54 L671.0 478.55 L672.0 478.55 L673.0 478.55 L674.0 478.56 L675.0 478.56 L676.0 478.55 L677.0 478.55 L678.0 478.55 L679.0 478.54 L680.0 478.53 L681.0 478.52 L682.0 478.51 L683.0 478.50 L684.0 478.49" stroke="#d14836"/>
</g>
<line x1="562.90" y1="30.15" x2="562.90" y2="493.70" stroke="#000" stroke-width="1.45" stroke-dasharray="3.4 2.941"/>
<g fill="#000">
<rect x="396.43" y="26.93" width="288.60" height="1.15"/>
<rect x="396.43" y="143.83" width="288.60" height="1.15"/>
<rect x="396.43" y="260.43" width="288.60" height="1.15"/>
<rect x="396.43" y="376.98" width="288.60" height="1.15"/>
<rect x="396.43" y="493.43" width="288.60" height="1.15"/>
<rect x="396.43" y="26.93" width="1.15" height="467.65"/>
<rect x="683.88" y="26.93" width="1.15" height="467.65"/>
<rect x="396.10" y="144.40" width="1.20" height="4.00"/>
<rect x="396.10" y="261.00" width="1.20" height="4.00"/>
<rect x="396.10" y="377.55" width="1.20" height="4.00"/>
<rect x="396.10" y="494.00" width="1.20" height="6.70"/>
<rect x="430.01" y="144.40" width="1.20" height="4.00"/>
<rect x="430.01" y="261.00" width="1.20" height="4.00"/>
<rect x="430.01" y="377.55" width="1.20" height="4.00"/>
<rect x="430.01" y="494.00" width="1.20" height="6.70"/>
<rect x="463.92" y="144.40" width="1.20" height="4.00"/>
<rect x="463.92" y="261.00" width="1.20" height="4.00"/>
<rect x="463.92" y="377.55" width="1.20" height="4.00"/>
<rect x="463.92" y="494.00" width="1.20" height="6.70"/>
<rect x="497.83" y="144.40" width="1.20" height="4.00"/>
<rect x="497.83" y="261.00" width="1.20" height="4.00"/>
<rect x="497.83" y="377.55" width="1.20" height="4.00"/>
<rect x="497.83" y="494.00" width="1.20" height="6.70"/>
<rect x="531.74" y="144.40" width="1.20" height="4.00"/>
<rect x="531.74" y="261.00" width="1.20" height="4.00"/>
<rect x="531.74" y="377.55" width="1.20" height="4.00"/>
<rect x="531.74" y="494.00" width="1.20" height="6.70"/>
<rect x="565.65" y="144.40" width="1.20" height="4.00"/>
<rect x="565.65" y="261.00" width="1.20" height="4.00"/>
<rect x="565.65" y="377.55" width="1.20" height="4.00"/>
<rect x="565.65" y="494.00" width="1.20" height="6.70"/>
<rect x="599.56" y="144.40" width="1.20" height="4.00"/>
<rect x="599.56" y="261.00" width="1.20" height="4.00"/>
<rect x="599.56" y="377.55" width="1.20" height="4.00"/>
<rect x="599.56" y="494.00" width="1.20" height="6.70"/>
<rect x="633.47" y="144.40" width="1.20" height="4.00"/>
<rect x="633.47" y="261.00" width="1.20" height="4.00"/>
<rect x="633.47" y="377.55" width="1.20" height="4.00"/>
<rect x="633.47" y="494.00" width="1.20" height="6.70"/>
<rect x="667.38" y="144.40" width="1.20" height="4.00"/>
<rect x="667.38" y="261.00" width="1.20" height="4.00"/>
<rect x="667.38" y="377.55" width="1.20" height="4.00"/>
<rect x="667.38" y="494.00" width="1.20" height="6.70"/>
</g>
<text x="396.7" y="518.9" font-size="16" text-anchor="middle">106</text>
<text x="430.6" y="518.9" font-size="16" text-anchor="middle">105</text>
<text x="464.5" y="518.9" font-size="16" text-anchor="middle">104</text>
<text x="498.4" y="518.9" font-size="16" text-anchor="middle">103</text>
<text x="532.3" y="518.9" font-size="16" text-anchor="middle">102</text>
<text x="566.2" y="518.9" font-size="16" text-anchor="middle">101</text>
<text x="600.2" y="518.9" font-size="16" text-anchor="middle">100</text>
<text x="634.1" y="518.9" font-size="16" text-anchor="middle">99</text>
<text x="668.0" y="518.9" font-size="16" text-anchor="middle">98</text>
<text x="677.5" y="43.5" font-size="14.5" text-anchor="end">10mins</text>
<text x="677.5" y="163.6" font-size="14.5" text-anchor="end">30mins</text>
<text x="677.5" y="281.8" font-size="14.5" text-anchor="end">60mins</text>
<text x="679.0" y="398.8" font-size="14.5" text-anchor="end">120mins</text>
<rect x="408.3" y="39.7" width="74.3" height="34.6" fill="#999"/>
<rect x="404.3" y="35.1" width="74.3" height="34.6" fill="#fff" stroke="#ccc" stroke-width="0.8"/>
<line x1="405.3" y1="44.1" x2="438.3" y2="44.1" stroke="#3cbdbd" stroke-width="2"/>
<line x1="405.3" y1="60.9" x2="438.3" y2="60.9" stroke="#d14836" stroke-width="2"/>
<text x="441.0" y="48.8" font-size="13.6">silane</text>
<text x="441.0" y="65.5" font-size="13.6">blank</text>
<text transform="translate(380.8 252.8) rotate(-90)" font-size="24.6" text-anchor="middle">Intensity(cps)</text>
<text x="540.8" y="551.3" font-size="24.5" text-anchor="middle">Binding Energy(eV)</text>
<text x="392.8" y="22.0" font-size="30" font-weight="bold">b</text>
<text x="642.0" y="21.0" font-size="20.3">Si<tspan dx="2" font-style="italic">2p</tspan></text>
</svg></body></html>
